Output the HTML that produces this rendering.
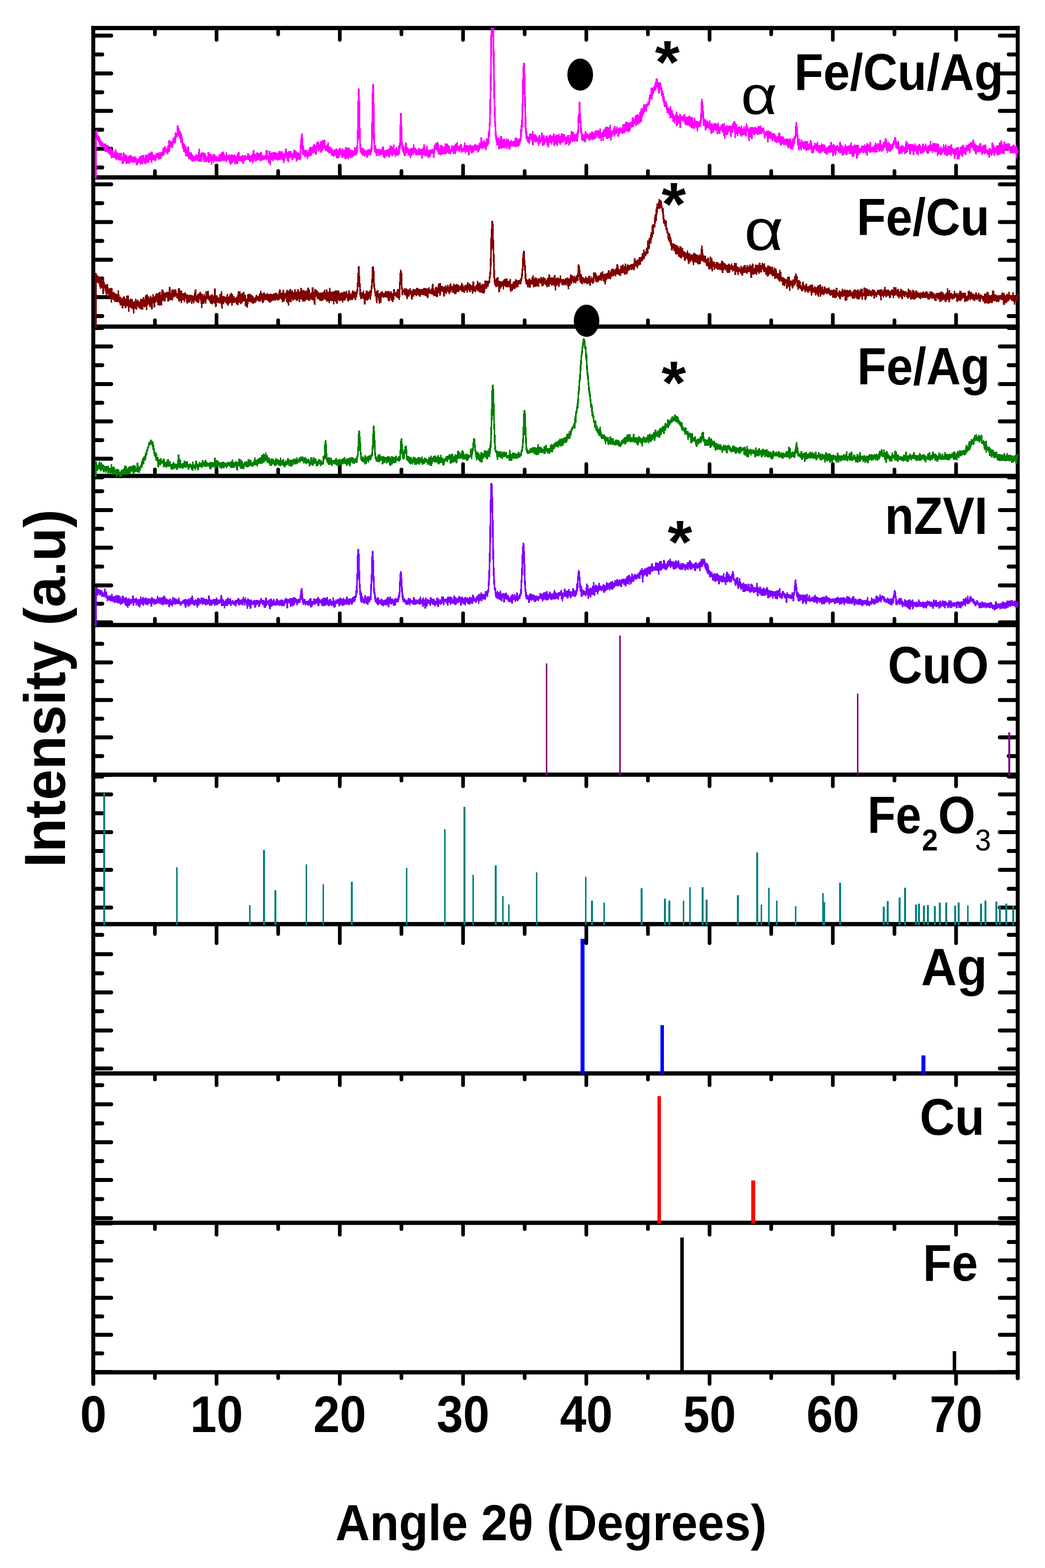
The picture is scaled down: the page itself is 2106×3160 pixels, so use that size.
<!DOCTYPE html>
<html lang="en"><head><meta charset="utf-8"><title>XRD patterns</title>
<style>html,body{margin:0;padding:0;background:#fff}svg{display:block}text{font-family:"Liberation Sans",sans-serif;font-size:100px;fill:#000}</style></head><body>
<svg width="2106" height="3160" viewBox="0 0 2106 3160">
<rect width="2106" height="3160" fill="#fff"/>
<g id="ticks">
<path d="M188,71.8H224M2051,71.8H2015M188,148H224M2051,148H2015M188,223.5H224M2051,223.5H2015M188,299.8H224M2051,299.8H2015M188,109.8H206M2051,109.8H2033M188,186H206M2051,186H2033M188,261.6H206M2051,261.6H2033M188,337.5H206M2051,337.5H2033" stroke="#000" stroke-width="8.0" stroke-linecap="round" fill="none"/>
<path d="M188,371.5H224M2051,371.5H2015M188,447.5H224M2051,447.5H2015M188,523.4H224M2051,523.4H2015M188,598.7H224M2051,598.7H2015M188,409.5H206M2051,409.5H2033M188,485.4H206M2051,485.4H2033M188,561.2H206M2051,561.2H2033M188,637H206M2051,637H2033" stroke="#000" stroke-width="8.0" stroke-linecap="round" fill="none"/>
<path d="M188,698.2H224M2051,698.2H2015M188,774H224M2051,774H2015M188,849.2H224M2051,849.2H2015M188,924.5H224M2051,924.5H2015M188,661H206M2051,661H2033M188,736H206M2051,736H2033M188,811.7H206M2051,811.7H2033M188,887H206M2051,887H2033M188,962H206M2051,962H2033" stroke="#000" stroke-width="8.0" stroke-linecap="round" fill="none"/>
<path d="M188,1028H224M2051,1028H2015M188,1103.8H224M2051,1103.8H2015M188,1179.8H224M2051,1179.8H2015M188,1254.3H224M2051,1254.3H2015M188,990H206M2051,990H2033M188,1065.8H206M2051,1065.8H2033M188,1141.8H206M2051,1141.8H2033M188,1216.8H206M2051,1216.8H2033" stroke="#000" stroke-width="8.0" stroke-linecap="round" fill="none"/>
<path d="M188,1334.9H224M2051,1334.9H2015M188,1410.7H224M2051,1410.7H2015M188,1486H224M2051,1486H2015M188,1561.4H224M2051,1561.4H2015M188,1297.4H206M2051,1297.4H2033M188,1372.7H206M2051,1372.7H2033M188,1448.4H206M2051,1448.4H2033M188,1523.7H206M2051,1523.7H2033" stroke="#000" stroke-width="8.0" stroke-linecap="round" fill="none"/>
<path d="M188,1601H224M2051,1601H2015M188,1677H224M2051,1677H2015M188,1753H224M2051,1753H2015M188,1829H224M2051,1829H2015M188,1565H206M2051,1565H2033M188,1639H206M2051,1639H2033M188,1715H206M2051,1715H2033M188,1791.3H206M2051,1791.3H2033" stroke="#000" stroke-width="8.0" stroke-linecap="round" fill="none"/>
<path d="M188,1922.9H224M2051,1922.9H2015M188,2000H224M2051,2000H2015M188,2076.7H224M2051,2076.7H2015M188,2153.3H224M2051,2153.3H2015M188,1883.9H206M2051,1883.9H2033M188,1961.4H206M2051,1961.4H2033M188,2038H206M2051,2038H2033M188,2115H206M2051,2115H2033" stroke="#000" stroke-width="8.0" stroke-linecap="round" fill="none"/>
<path d="M188,2225.5H224M2051,2225.5H2015M188,2302H224M2051,2302H2015M188,2378H224M2051,2378H2015M188,2455H224M2051,2455H2015M188,2187H206M2051,2187H2033M188,2264H206M2051,2264H2033M188,2340H206M2051,2340H2033M188,2416.5H206M2051,2416.5H2033" stroke="#000" stroke-width="8.0" stroke-linecap="round" fill="none"/>
<path d="M188,2465.5H224M2051,2465.5H2015M188,2540.3H224M2051,2540.3H2015M188,2615.5H224M2051,2615.5H2015M188,2690H224M2051,2690H2015M188,2765H224M2051,2765H2015M188,2503H206M2051,2503H2033M188,2578H206M2051,2578H2033M188,2653H206M2051,2653H2033M188,2727.5H206M2051,2727.5H2033" stroke="#000" stroke-width="8.0" stroke-linecap="round" fill="none"/>
<path d="M312.2,56.5V69.3M436.4,56.5V80.3M560.6,56.5V69.3M684.8,56.5V80.3M809,56.5V69.3M933.2,56.5V80.3M1057.4,56.5V69.3M1181.6,56.5V80.3M1305.8,56.5V69.3M1430,56.5V80.3M1554.2,56.5V69.3M1678.4,56.5V80.3M1802.6,56.5V69.3M1926.8,56.5V80.3" stroke="#000" stroke-width="7.4" stroke-linecap="round" fill="none"/>
<path d="M312.2,357.5V344.7M436.4,357.5V333.7M560.6,357.5V344.7M684.8,357.5V333.7M809,357.5V344.7M933.2,357.5V333.7M1057.4,357.5V344.7M1181.6,357.5V333.7M1305.8,357.5V344.7M1430,357.5V333.7M1554.2,357.5V344.7M1678.4,357.5V333.7M1802.6,357.5V344.7M1926.8,357.5V333.7" stroke="#000" stroke-width="7.4" stroke-linecap="round" fill="none"/>
<path d="M312.2,658.2V645.4M436.4,658.2V634.4M560.6,658.2V645.4M684.8,658.2V634.4M809,658.2V645.4M933.2,658.2V634.4M1057.4,658.2V645.4M1181.6,658.2V634.4M1305.8,658.2V645.4M1430,658.2V634.4M1554.2,658.2V645.4M1678.4,658.2V634.4M1802.6,658.2V645.4M1926.8,658.2V634.4" stroke="#000" stroke-width="7.4" stroke-linecap="round" fill="none"/>
<path d="M312.2,959.1V946.3M436.4,959.1V935.3M560.6,959.1V946.3M684.8,959.1V935.3M809,959.1V946.3M933.2,959.1V935.3M1057.4,959.1V946.3M1181.6,959.1V935.3M1305.8,959.1V946.3M1430,959.1V935.3M1554.2,959.1V946.3M1678.4,959.1V935.3M1802.6,959.1V946.3M1926.8,959.1V935.3" stroke="#000" stroke-width="7.4" stroke-linecap="round" fill="none"/>
<path d="M312.2,1259.7V1246.9M436.4,1259.7V1235.9M560.6,1259.7V1246.9M684.8,1259.7V1235.9M809,1259.7V1246.9M933.2,1259.7V1235.9M1057.4,1259.7V1246.9M1181.6,1259.7V1235.9M1305.8,1259.7V1246.9M1430,1259.7V1235.9M1554.2,1259.7V1246.9M1678.4,1259.7V1235.9M1802.6,1259.7V1246.9M1926.8,1259.7V1235.9" stroke="#000" stroke-width="7.4" stroke-linecap="round" fill="none"/>
<path d="M312.2,1561.2V1573M436.4,1561.2V1584.5M560.6,1561.2V1573M684.8,1561.2V1584.5M809,1561.2V1573M933.2,1561.2V1584.5M1057.4,1561.2V1573M1181.6,1561.2V1584.5M1305.8,1561.2V1573M1430,1561.2V1584.5M1554.2,1561.2V1573M1678.4,1561.2V1584.5M1802.6,1561.2V1573M1926.8,1561.2V1584.5" stroke="#000" stroke-width="7.4" stroke-linecap="round" fill="none"/>
<path d="M312.2,1862.4V1882.2M436.4,1862.4V1900.7M560.6,1862.4V1882.2M684.8,1862.4V1900.7M809,1862.4V1882.2M933.2,1862.4V1900.7M1057.4,1862.4V1882.2M1181.6,1862.4V1900.7M1305.8,1862.4V1882.2M1430,1862.4V1900.7M1554.2,1862.4V1882.2M1678.4,1862.4V1900.7M1802.6,1862.4V1882.2M1926.8,1862.4V1900.7" stroke="#000" stroke-width="7.4" stroke-linecap="round" fill="none"/>
<path d="M312.2,2163.3V2175.6M436.4,2163.3V2186.9M560.6,2163.3V2175.6M684.8,2163.3V2186.9M809,2163.3V2175.6M933.2,2163.3V2186.9M1057.4,2163.3V2175.6M1181.6,2163.3V2186.9M1305.8,2163.3V2175.6M1430,2163.3V2186.9M1554.2,2163.3V2175.6M1678.4,2163.3V2186.9M1802.6,2163.3V2175.6M1926.8,2163.3V2186.9" stroke="#000" stroke-width="7.4" stroke-linecap="round" fill="none"/>
<path d="M312.2,2464.3V2476.9M436.4,2464.3V2488.2M560.6,2464.3V2476.9M684.8,2464.3V2488.2M809,2464.3V2476.9M933.2,2464.3V2488.2M1057.4,2464.3V2476.9M1181.6,2464.3V2488.2M1305.8,2464.3V2476.9M1430,2464.3V2488.2M1554.2,2464.3V2476.9M1678.4,2464.3V2488.2M1802.6,2464.3V2476.9M1926.8,2464.3V2488.2" stroke="#000" stroke-width="7.4" stroke-linecap="round" fill="none"/>
<path d="M312.2,2765.6V2777.4M436.4,2765.6V2788.9M560.6,2765.6V2777.4M684.8,2765.6V2788.9M809,2765.6V2777.4M933.2,2765.6V2788.9M1057.4,2765.6V2777.4M1181.6,2765.6V2788.9M1305.8,2765.6V2777.4M1430,2765.6V2788.9M1554.2,2765.6V2777.4M1678.4,2765.6V2788.9M1802.6,2765.6V2777.4M1926.8,2765.6V2788.9" stroke="#000" stroke-width="7.4" stroke-linecap="round" fill="none"/>
</g>
<g id="frame">
<rect x="183.8" y="52.2" width="1871.4" height="8.6" fill="#000"/>
<rect x="183.8" y="353.2" width="1871.4" height="8.6" fill="#000"/>
<rect x="183.8" y="653.9" width="1871.4" height="8.6" fill="#000"/>
<rect x="183.8" y="954.8" width="1871.4" height="8.6" fill="#000"/>
<rect x="183.8" y="1255.4" width="1871.4" height="8.6" fill="#000"/>
<rect x="183.8" y="1556.9" width="1871.4" height="8.6" fill="#000"/>
<rect x="183.8" y="1858.1" width="1871.4" height="8.6" fill="#000"/>
<rect x="183.8" y="2159" width="1871.4" height="8.6" fill="#000"/>
<rect x="183.8" y="2460" width="1871.4" height="8.6" fill="#000"/>
<rect x="183.8" y="2761.3" width="1871.4" height="8.6" fill="#000"/>
<rect x="184" y="52.2" width="8" height="2736.8" fill="#000"/>
<rect x="2047" y="52.2" width="8" height="2725.3" fill="#000"/>
<circle cx="188" cy="2789" r="4" fill="#000"/>
<circle cx="2051" cy="2777.5" r="4" fill="#000"/>
</g>
<g id="sticks">
<rect x="1100" y="1337" width="3" height="226" fill="#800080" shape-rendering="crispEdges"/>
<rect x="1248" y="1281" width="3" height="282" fill="#800080" shape-rendering="crispEdges"/>
<rect x="1727" y="1398" width="3" height="165" fill="#800080" shape-rendering="crispEdges"/>
<rect x="2032" y="1476" width="4" height="87" fill="#800080" shape-rendering="crispEdges"/>
<rect x="208" y="1598" width="4" height="266" fill="#008080" shape-rendering="crispEdges"/>
<rect x="355" y="1748" width="3" height="116" fill="#008080" shape-rendering="crispEdges"/>
<rect x="502" y="1824" width="3" height="40" fill="#008080" shape-rendering="crispEdges"/>
<rect x="530" y="1713" width="4" height="151" fill="#008080" shape-rendering="crispEdges"/>
<rect x="553" y="1794" width="4" height="70" fill="#008080" shape-rendering="crispEdges"/>
<rect x="616" y="1742" width="3" height="122" fill="#008080" shape-rendering="crispEdges"/>
<rect x="650" y="1782" width="3" height="82" fill="#008080" shape-rendering="crispEdges"/>
<rect x="707" y="1777" width="4" height="87" fill="#008080" shape-rendering="crispEdges"/>
<rect x="818" y="1749" width="3" height="115" fill="#008080" shape-rendering="crispEdges"/>
<rect x="895" y="1671" width="3" height="193" fill="#008080" shape-rendering="crispEdges"/>
<rect x="934" y="1626" width="4" height="238" fill="#008080" shape-rendering="crispEdges"/>
<rect x="952" y="1763" width="3" height="101" fill="#008080" shape-rendering="crispEdges"/>
<rect x="997" y="1744" width="4" height="120" fill="#008080" shape-rendering="crispEdges"/>
<rect x="1012" y="1806" width="3" height="58" fill="#008080" shape-rendering="crispEdges"/>
<rect x="1024" y="1823" width="3" height="41" fill="#008080" shape-rendering="crispEdges"/>
<rect x="1080" y="1758" width="3" height="106" fill="#008080" shape-rendering="crispEdges"/>
<rect x="1179" y="1767" width="3" height="97" fill="#008080" shape-rendering="crispEdges"/>
<rect x="1191" y="1815" width="4" height="49" fill="#008080" shape-rendering="crispEdges"/>
<rect x="1216" y="1819" width="3" height="45" fill="#008080" shape-rendering="crispEdges"/>
<rect x="1291" y="1790" width="4" height="74" fill="#008080" shape-rendering="crispEdges"/>
<rect x="1338" y="1811" width="4" height="53" fill="#008080" shape-rendering="crispEdges"/>
<rect x="1347" y="1815" width="4" height="49" fill="#008080" shape-rendering="crispEdges"/>
<rect x="1376" y="1815" width="3" height="49" fill="#008080" shape-rendering="crispEdges"/>
<rect x="1389" y="1788" width="3" height="76" fill="#008080" shape-rendering="crispEdges"/>
<rect x="1414" y="1788" width="4" height="76" fill="#008080" shape-rendering="crispEdges"/>
<rect x="1422" y="1813" width="4" height="51" fill="#008080" shape-rendering="crispEdges"/>
<rect x="1485" y="1804" width="4" height="60" fill="#008080" shape-rendering="crispEdges"/>
<rect x="1524" y="1718" width="4" height="146" fill="#008080" shape-rendering="crispEdges"/>
<rect x="1533" y="1823" width="3" height="41" fill="#008080" shape-rendering="crispEdges"/>
<rect x="1548" y="1789" width="3" height="75" fill="#008080" shape-rendering="crispEdges"/>
<rect x="1564" y="1815" width="3" height="49" fill="#008080" shape-rendering="crispEdges"/>
<rect x="1602" y="1826" width="3" height="38" fill="#008080" shape-rendering="crispEdges"/>
<rect x="1657" y="1800" width="3" height="64" fill="#008080" shape-rendering="crispEdges"/>
<rect x="1660" y="1818" width="3" height="46" fill="#008080" shape-rendering="crispEdges"/>
<rect x="1691" y="1779" width="4" height="85" fill="#008080" shape-rendering="crispEdges"/>
<rect x="1779" y="1827" width="4" height="37" fill="#008080" shape-rendering="crispEdges"/>
<rect x="1787" y="1816" width="4" height="48" fill="#008080" shape-rendering="crispEdges"/>
<rect x="1811" y="1809" width="4" height="55" fill="#008080" shape-rendering="crispEdges"/>
<rect x="1822" y="1789" width="4" height="75" fill="#008080" shape-rendering="crispEdges"/>
<rect x="1844" y="1823" width="4" height="41" fill="#008080" shape-rendering="crispEdges"/>
<rect x="1850" y="1821" width="4" height="43" fill="#008080" shape-rendering="crispEdges"/>
<rect x="1860" y="1825" width="4" height="39" fill="#008080" shape-rendering="crispEdges"/>
<rect x="1868" y="1824" width="4" height="40" fill="#008080" shape-rendering="crispEdges"/>
<rect x="1882" y="1826" width="4" height="38" fill="#008080" shape-rendering="crispEdges"/>
<rect x="1892" y="1819" width="4" height="45" fill="#008080" shape-rendering="crispEdges"/>
<rect x="1905" y="1819" width="4" height="45" fill="#008080" shape-rendering="crispEdges"/>
<rect x="1923" y="1825" width="4" height="39" fill="#008080" shape-rendering="crispEdges"/>
<rect x="1930" y="1819" width="4" height="45" fill="#008080" shape-rendering="crispEdges"/>
<rect x="1949" y="1825" width="3" height="39" fill="#008080" shape-rendering="crispEdges"/>
<rect x="1975" y="1821" width="4" height="43" fill="#008080" shape-rendering="crispEdges"/>
<rect x="1984" y="1815" width="4" height="49" fill="#008080" shape-rendering="crispEdges"/>
<rect x="2006" y="1817" width="4" height="47" fill="#008080" shape-rendering="crispEdges"/>
<rect x="2013" y="1826" width="4" height="38" fill="#008080" shape-rendering="crispEdges"/>
<rect x="2026" y="1821" width="4" height="43" fill="#008080" shape-rendering="crispEdges"/>
<rect x="2040" y="1825" width="4" height="39" fill="#008080" shape-rendering="crispEdges"/>
<rect x="1170" y="1892" width="8" height="273" fill="#0000ff" shape-rendering="crispEdges"/>
<rect x="1331" y="2066" width="7" height="99" fill="#0000ff" shape-rendering="crispEdges"/>
<rect x="1857" y="2127" width="8" height="38" fill="#0000ff" shape-rendering="crispEdges"/>
<rect x="1325" y="2209" width="7" height="257" fill="#ff0000" shape-rendering="crispEdges"/>
<rect x="1514" y="2379" width="8" height="87" fill="#ff0000" shape-rendering="crispEdges"/>
<rect x="1371" y="2494" width="7" height="272" fill="#000" shape-rendering="crispEdges"/>
<rect x="1920" y="2723" width="7" height="43" fill="#000" shape-rendering="crispEdges"/>
</g>
<g id="curves">
<path d="M191,277h1v-10h1v-5h1v-1h1v1h1v8h1v3h2v2h2v1h1v5h2v3h1v2h3v2h1v2h1v-1h4v3h4v1h1v8h1v-2h1v-2h1v-1h2v1h1v5h4v7h1v-4h1v-4h3v1h1v4h1v1h1v1h1v1h3v-1h1v1h1v-1h2v1h1v7h1v-8h1v-1h2v1h1v3h4v2h1v1h1v2h1v-2h3v-1h1v-1h2v1h1v1h2v3h1v-1h1v-1h4v1h1v2h2v3h1v-1h1v-1h2v-2h1v-2h1v-1h2v-1h4v-1h3v5h1v-5h1v-1h2v1h3v-3h1v-1h2v1h1v-2h2v-1h1v-1h2v1h1v5h3v1h1v1h1v-3h1v-1h2v-1h2v1h1v-2h1v-1h1v1h1v1h1v-2h1v-1h1v1h2v-6h1v-3h3v-2h1v-1h1v1h1v3h1v2h1v-2h1v-5h2v-10h1v-1h2v1h1v2h1v-1h2v1h1v-3h1v-5h2v-1h1v-1h1v-8h1v-1h1v1h1v1h1v-15h1v-1h2v1h1v5h1v1h1v5h2v1h1v2h1v4h1v3h1v5h1v8h1v1h1v1h1v2h1v3h3v6h1v-4h1v-1h2v1h1v10h1v1h5v4h2v2h1v1h2v1h1v-2h1v-2h3v1h2v-5h1v-7h1v-1h1v1h1v9h1v1h1v-2h1v-1h5v1h3v3h1v1h1v3h2v-8h1v-1h2v1h1v2h2v1h2v1h1v3h1v-3h1v-1h1v1h1v-1h2v1h1v3h2v1h3v1h1v-5h4v-1h1v-3h3v-1h1v-1h2v1h1v5h2v3h1v-7h3v5h1v2h1v-3h3v1h1v1h1v-2h4v1h2v-1h3v3h3v-3h1v-2h1v-3h3v1h1v7h1v1h1v-1h2v-1h1v-1h2v1h1v2h1v-2h1v-1h2v1h1v2h1v-1h1v-5h1v-1h1v1h2v3h2v2h2v-2h1v-2h2v-7h1v-1h2v1h1v6h1v1h1v1h1v-3h1v-1h1v-1h1v1h1v2h1v-1h2v1h1v-3h4v6h2v1h1v1h2v-1h1v-1h1v-9h2v-1h2v1h1v10h1v-9h4v4h1v-1h5v-1h4v1h1v1h1v-1h1v1h1v1h1v-2h1v-3h3v1h6v4h3v-1h1v-7h1v-2h3v6h1v2h1v-1h1v-2h3v1h1v-1h2v1h1v3h1v1h1v-2h1v-5h1v-1h1v1h1v1h3v2h1v2h1v-1h2v1h1v1h1v1h1v-17h1v-12h1v-8h1v-3h3v7h1v17h1v1h1v8h5v1h2v3h1v-5h2v-4h1v-1h3v1h1v-2h3v-4h1v-1h2v1h1v2h2v-6h2v-1h1v-1h2v1h1v5h1v-4h1v-2h1v-1h1v1h1v-2h1v-1h2v1h1v-1h1v-1h2v1h1v11h2v-2h2v-4h3v8h2v1h2v1h1v2h2v1h1v3h1v-1h1v-1h3v-1h1v-1h2v1h1v2h2v-1h1v-3h4v4h1v-3h4v3h3v-5h1v-1h2v1h1v1h3v-1h2v1h1v3h2v1h4v1h1v1h1v-7h1v-1h1v1h1v1h1v-1h1v-4h1v-31h1v-58h1v-26h3v1h1v25h1v54h1v32h1v7h1v2h1v-1h3v1h1v2h1v1h1v1h2v-1h1v1h1v-2h1v-1h2v1h1v-1h1v1h1v-3h1v-7h1v-45h1v-59h1v-17h1v-1h2v1h1v38h1v61h1v23h1v1h1v6h1v1h8v3h1v-3h1v-3h1v-1h1v-1h2v1h1v6h1v1h2v-1h2v-1h2v1h1v-3h3v-6h3v1h3v3h1v-6h3v9h2v-3h1v-1h2v1h1v5h1v-9h2v-5h1v-37h1v-23h4v26h1v31h1v8h2v1h1v3h1v-9h1v-1h2v1h1v8h1v1h1v1h1v2h2v-1h1v1h1v-2h5v-7h1v-1h1v1h1v5h1v2h2v1h1v2h2v1h1v-3h1v-1h2v1h1v1h3v1h1v-1h1v-2h1v-1h1v-6h3v1h1v11h1v-5h1v-4h3v7h1v1h3v-1h5v-1h3v-7h1v-1h1v-3h1v-1h2v1h1v-3h1v-1h1v1h1v2h1v4h1v7h1v-4h1v-3h3v1h3v3h2v-2h1v-5h3v1h1v-1h2v1h1v2h1v1h1v1h2v7h1v-1h1v-7h4v2h1v-2h1v-1h2v-2h1v-1h2v-2h1v-1h1v1h1v6h1v2h1v-2h1v-1h1v-1h1v-1h2v1h1v6h2v1h1v-6h1v-5h3v5h3v1h5v-1h1v-1h2v1h1v2h1v-1h3v1h1v-2h1v-1h1v-1h3v3h1v-1h2v-1h1v1h1v-4h1v-1h2v-10h4v8h2v-3h3v4h1v-1h1v-4h1v-3h2v1h1v-12h1v-4h1v-17h1v-46h1v-52h1v-78h1v-14h7v46h1v61h1v52h1v30h1v20h1v8h1v5h1v-1h2v1h1v3h1v-6h2v-1h3v5h1v2h1v-1h1v-1h2v1h1v4h1v-4h1v-1h2v1h1v1h3v4h1v-1h2v-2h3v4h1v-2h4v-7h4v1h1v1h2v3h1v-3h1v-1h1v1h1v-19h1v-8h1v-11h1v-33h1v-49h1v-25h1v-7h1v-1h1v1h2v22h1v46h1v39h1v25h1v6h1v8h1v1h1v2h1v-6h1v-1h2v-1h1v1h1v1h1v-6h3v7h1v-1h3v2h2v1h1v2h1v3h1v-2h1v-3h1v-1h2v1h1v4h1v-9h1v-1h2v1h1v5h1v-1h2v1h1v5h1v-4h2v-1h3v4h1v-3h1v-1h1v-1h1v-1h2v1h1v2h1v-1h1v1h1v-3h1v-2h3v5h1v-2h1v-1h2v1h3v-2h1v-1h1v1h1v4h1v-1h1v-4h1v-1h2v1h1v2h1v-1h3v1h1v4h4v-3h4v5h1v-5h2v-8h4v2h3v4h4v-1h1v-3h1v-5h1v-28h1v-4h1v-23h1v-1h2v1h1v21h1v16h1v15h1v9h1v2h1v1h1v1h1v-1h1v-5h1v-1h2v1h1v4h1v-1h1v1h1v2h2v-2h1v-1h1v1h1v-2h1v-2h4v1h2v2h1v-5h1v-1h1v1h4v-1h2v1h2v-4h3v8h3v-3h1v-3h3v-2h1v-3h1v-1h1v1h2v-1h2v1h1v1h1v-1h1v-4h1v-1h1v1h1v11h3v-1h1v-1h1v-4h1v-1h1v-2h3v5h1v-4h3v4h1v-1h1v-1h3v-1h2v1h1v2h1v-8h1v-1h2v1h1v-1h1v-1h1v-4h4v1h1v1h1v-1h1v1h3v-1h1v-1h2v-9h4v4h1v-2h1v-5h1v-1h3v-2h4v3h1v-7h2v-3h1v-5h3v1h1v-4h1v-4h1v-1h2v1h1v-1h2v-1h1v-1h2v-4h2v-8h1v-5h2v-2h1v-12h1v-1h2v1h2v-2h1v-1h1v-1h1v-6h1v-2h1v-6h1v-1h3v1h1v7h2v-1h2v1h1v1h1v2h1v6h1v2h1v6h2v5h1v6h1v2h1v6h1v2h2v1h1v4h1v5h1v2h2v2h1v-1h1v-3h3v7h2v1h1v6h1v1h1v3h1v1h1v-1h1v-4h1v-3h3v7h2v1h1v1h1v-4h1v-1h1v1h1v3h2v1h2v-1h1v-2h1v-1h3v5h5v1h1v-2h1v-1h2v1h1v1h2v1h3v1h1v9h1v-9h3v4h1v3h1v-1h2v1h2v1h2v-2h1v-2h1v-13h1v-23h1v-6h3v6h1v6h1v13h1v15h2v1h1v1h1v2h4v3h2v-3h1v-1h1v1h1v7h1v-2h1v-1h1v1h1v3h1v-2h2v-1h5v2h2v-3h3v8h3v-4h3v-2h4v-1h1v1h1v6h1v-1h1v-1h3v-1h1v1h1v1h1v-1h5v1h1v-4h1v-2h1v-2h1v-2h4v3h1v3h3v7h1v-1h1v-1h1v-1h2v1h1v2h1v-4h3v6h2v-4h1v-1h1v1h1v4h1v-5h1v-5h1v-1h1v1h1v4h1v3h1v3h2v-2h1v-1h8v2h1v-2h1v-1h2v1h1v1h1v1h1v-2h1v-2h5v-1h2v1h1v4h2v-1h1v-1h1v1h1v4h1v4h1v1h1v-2h1v-1h3v1h1v-1h2v1h1v1h4v3h2v1h1v-1h2v1h2v2h1v2h1v2h2v-1h2v-6h1v-1h2v1h1v1h1v6h2v-1h2v1h2v1h1v3h1v1h3v-1h5v2h1v-2h4v1h1v5h1v-5h1v-1h2v-2h1v-3h1v-1h1v-19h1v-8h3v1h1v8h1v14h1v11h1v-1h1v1h1v7h1v-5h1v-1h2v1h1v3h5v-1h3v1h1v-1h2v1h1v5h2v-3h1v-5h3v2h1v4h1v6h2v-1h2v-5h3v1h2v-3h1v-1h1v1h1v7h1v-1h2v1h2v-4h3v1h1v1h4v1h1v1h1v4h2v-1h2v-1h1v-2h3v-1h1v-6h4v7h1v-3h3v2h2v1h1v1h2v-2h3v3h1v1h1v-10h4v5h1v1h1v1h1v1h1v5h1v-4h2v-4h3v4h1v-1h1v-1h1v1h2v-1h1v-1h1v1h1v-2h1v-4h3v7h3v-2h1v-1h2v1h5v-1h1v1h2v6h2v2h1v-3h1v-4h3v1h2v-1h1v-2h3v3h1v-2h1v-3h1v-1h2v1h1v2h2v-5h3v1h1v10h1v-1h1v-1h2v1h1v-4h2v-5h3v3h1v1h1v-3h3v2h1v-7h1v-1h2v1h1v8h3v-4h1v-1h2v-3h1v-5h3v2h1v3h1v5h1v-1h1v-1h2v1h1v3h2v1h1v-1h1v-1h2v-4h1v-2h1v-2h1v-5h3v2h1v4h1v3h1v1h1v-1h1v-1h1v1h1v6h1v4h3v-2h1v-1h2v1h2v3h2v-1h1v-5h1v-6h3v3h2v3h3v1h1v-1h3v1h1v-1h2v1h1v1h1v-3h3v4h3v1h2v-2h1v-2h3v1h1v1h1v5h1v-2h1v-6h3v1h1v3h1v1h1v-5h2v1h1v3h1v3h1v-2h1v-1h2v-1h1v-1h1v-7h3v7h2v-3h1v-1h1v1h1v1h1v-1h2v1h5v1h2v1h1v7h1v-1h1v-2h3v5h1v-3h1v-6h1v-1h1v1h1v5h1v-4h1v-1h2v1h1v6h1v-4h6v-3h4v7h2v1h2v1h2v-2h1v-1h2v1h1v-1h1v-1h2v1h1v7h1v-7h1v-1h1v-1h1v-1h2v-2h4v4h2v1h1v-4h1v-1h2v1h1v-1h1v-2h1v-1h3v-3h3v1h1v-3h1v-3h3v4h1v4h2v2h1v1h1v1h5v-3h1v-1h1v-1h2v1h1v7h1v-3h3v-1h3v-1h2v1h1v9h3v1h1v-3h1v-1h3v1h1v2h1v-13h1v-1h2v1h1v4h2v5h3v-4h3v1h1v-2h2v-5h3v-3h1v-1h2v1h1v7h2v-5h1v-1h2v1h1v3h3v1h1v-1h1v-1h1v1h3v1h1v7h1v1h1v-4h1v-1h2v-1h1v-1h2v1h1v2h1v1h1v-1h2v1h1v1h1v5h1v3h1v2h-1v4h-1v1h-1v8h-3v-9h-1v-1h-6v-1h-1v1h-1v1h-2v-1h-1v-6h-1v1h-3v1h-1v-1h-1v-4h-1v3h-1v1h-1v-1h-1v8h-3v-2h-1v1h-2v-1h-2v2h-2v1h-1v1h-1v-1h-1v1h-4v-5h-1v1h-1v3h-1v2h-1v1h-1v-1h-1v-6h-1v3h-1v2h-1v1h-2v-1h-1v-2h-1v7h-3v-5h-2v-1h-1v-4h-1v1h-2v1h-1v1h-2v-1h-1v-2h-1v4h-1v1h-1v-1h-1v-3h-1v-2h-1v-2h-1v2h-6v4h-4v-3h-1v-3h-1v-1h-1v-1h-1v-4h-2v-1h-1v-2h-1v4h-1v8h-1v1h-1v-1h-1v-4h-2v1h-1v1h-1v-1h-1v7h-1v1h-2v-1h-1v-3h-2v4h-1v2h-1v1h-2v-1h-1v-4h-1v2h-1v3h-1v5h-4v1h-1v-1h-1v-8h-2v6h-1v1h-3v-9h-2v-1h-2v4h-1v1h-1v-1h-1v-2h-3v-1h-1v3h-1v1h-1v-1h-1v1h-1v-1h-1v-2h-4v-5h-2v3h-1v2h-1v1h-2v-1h-2v-1h-3v3h-1v1h-1v-1h-1v-8h-1v1h-4v-2h-2v3h-1v1h-1v-1h-1v-3h-3v-1h-2v4h-1v1h-1v1h-1v1h-1v-1h-1v-2h-1v-1h-1v-4h-2v3h-1v1h-2v2h-1v1h-1v-1h-1v1h-4v-5h-1v-1h-1v9h-3v-3h-1v1h-1v-1h-1v-4h-1v-1h-1v1h-1v6h-1v1h-2v-1h-1v-7h-2v-1h-1v7h-4v-8h-1v-2h-1v6h-1v1h-1v-1h-1v2h-1v1h-1v1h-2v-1h-1v-4h-3v4h-4v-1h-1v1h-1v1h-2v-1h-1v-8h-1v-1h-1v-1h-2v-2h-2v-7h-1v3h-2v6h-1v1h-2v1h-1v2h-1v1h-2v1h-3v-2h-1v4h-1v1h-1v-1h-1v-4h-1v-2h-1v-6h-1v3h-3v5h-2v1h-1v1h-2v-1h-1v-2h-1v2h-1v1h-2v-1h-1v-4h-1v6h-5v1h-2v-1h-1v-1h-2v1h-5v1h-2v-1h-1v-1h-1v-1h-1v9h-3v-4h-2v-2h-1v-1h-2v2h-3v-4h-1v2h-1v1h-2v1h-2v3h-1v1h-2v6h-1v1h-2v-1h-1v-10h-1v1h-2v6h-5v-1h-1v-4h-1v-1h-1v1h-4v-6h-1v5h-1v3h-4v-3h-3v2h-1v1h-1v1h-2v-1h-1v-4h-1v-1h-1v1h-3v-1h-1v-1h-1v-2h-1v-1h-2v6h-1v3h-1v1h-1v-1h-1v-5h-1v4h-1v3h-3v-7h-1v-1h-1v1h-3v-1h-1v1h-3v4h-3v-2h-3v-2h-2v-3h-2v1h-1v1h-2v2h-1v1h-1v-1h-1v-1h-4v-5h-1v2h-3v-4h-2v1h-1v6h-2v1h-2v1h-1v-1h-1v-5h-1v-2h-1v-2h-1v1h-1v2h-5v1h-2v-1h-1v-2h-1v1h-2v-1h-1v-1h-1v-3h-1v1h-1v5h-3v-4h-1v3h-1v1h-2v-1h-1v-9h-2v-18h-1v4h-2v4h-1v7h-1v5h-1v1h-1v5h-1v1h-2v-1h-3v-1h-1v-3h-1v1h-1v1h-3v-4h-1v-1h-1v-1h-2v-2h-1v1h-1v1h-2v-1h-1v-2h-2v3h-1v1h-1v-1h-1v-1h-2v-4h-2v-2h-2v2h-3v-1h-2v-1h-1v-1h-2v-4h-1v3h-1v1h-2v-5h-2v-1h-4v8h-3v-8h-1v-5h-1v-1h-1v6h-4v-9h-1v-4h-1v3h-1v1h-4v1h-4v1h-2v-1h-1v-1h-3v2h-4v-2h-1v10h-1v1h-2v-1h-1v-3h-2v7h-3v-6h-1v-14h-1v3h-1v8h-3v-2h-1v-1h-3v1h-2v2h-1v1h-2v-1h-1v-3h-1v-1h-1v-2h-2v5h-1v1h-1v-1h-1v-3h-1v-1h-1v8h-3v-12h-1v-7h-1v9h-3v8h-3v-3h-1v-8h-2v1h-1v5h-2v1h-1v1h-1v-1h-1v-1h-1v9h-3v-5h-1v-2h-1v-6h-3v-5h-1v2h-1v6h-3v-2h-1v2h-1v1h-2v-1h-1v-6h-2v-2h-2v1h-1v4h-1v1h-2v-1h-1v3h-3v-4h-1v-4h-1v-1h-2v-3h-2v1h-2v3h-1v1h-2v-1h-1v-8h-3v-1h-1v-15h-1v4h-1v7h-1v6h-1v1h-1v-1h-1v1h-1v1h-2v8h-3v-6h-1v-2h-1v-2h-1v5h-4v-2h-1v1h-3v-2h-1v-1h-2v-1h-1v-2h-6v-1h-2v-1h-1v-1h-1v-5h-3v-1h-2v-1h-1v15h-4v-9h-2v2h-1v3h-4v-11h-1v6h-3v-4h-1v1h-2v-7h-1v-2h-1v1h-1v1h-2v-1h-1v-6h-1v-1h-1v-3h-4v-6h-1v-6h-4v-4h-1v-6h-1v-1h-1v-6h-1v-5h-1v-1h-1v-11h-2v6h-1v1h-2v-1h-1v-9h-2v-4h-1v7h-2v1h-1v1h-2v4h-1v2h-1v4h-1v7h-3v-1h-1v5h-1v6h-1v1h-2v1h-1v1h-1v3h-1v7h-1v1h-2v-1h-1v3h-2v4h-1v1h-1v2h-1v5h-1v7h-3v3h-4v2h-1v1h-2v-1h-1v3h-3v-4h-1v1h-1v5h-5v2h-1v1h-1v4h-1v1h-1v2h-1v1h-2v-1h-1v-2h-1v1h-4v3h-1v1h-2v-1h-1v2h-1v1h-1v-1h-1v-2h-1v-1h-1v2h-2v2h-1v4h-1v1h-2v-1h-1v-6h-1v1h-1v1h-2v4h-3v-3h-1v-1h-1v4h-1v1h-1v7h-3v-5h-4v2h-5v-4h-3v-1h-1v9h-3v-6h-1v6h-1v1h-1v-1h-1v-6h-1v1h-1v1h-1v-1h-2v-1h-1v-5h-1v5h-2v1h-1v1h-1v1h-2v-1h-1v2h-1v1h-2v-1h-1v-1h-2v2h-1v1h-2v-1h-1v-3h-2v-1h-1v-1h-1v4h-1v4h-1v1h-2v-1h-1v-1h-2v-1h-1v-1h-2v-1h-1v-12h-1v-2h-1v-19h-1v-1h-1v22h-1v7h-1v8h-1v1h-2v-1h-1v-2h-1v3h-1v1h-1v-1h-1v-1h-2v1h-3v-2h-1v5h-1v1h-2v3h-1v1h-1v-1h-1v-6h-1v3h-1v1h-2v1h-3v-9h-1v4h-4v1h-2v3h-1v1h-2v-1h-1v-3h-1v-1h-1v7h-1v1h-1v-1h-1v-1h-1v-2h-2v3h-4v-8h-2v5h-1v1h-1v-1h-1v-3h-2v1h-1v7h-1v1h-2v-1h-1v-4h-2v-6h-1v1h-1v5h-3v2h-4v-9h-1v1h-1v3h-1v1h-1v-1h-1v5h-3v-4h-1v-4h-2v1h-1v1h-1v-1h-1v-1h-1v-1h-1v7h-1v1h-2v-1h-1v-6h-1v-5h-2v3h-1v5h-1v1h-2v-3h-2v-1h-1v-3h-1v-2h-1v-2h-1v-8h-1v-15h-1v-40h-1v-25h-1v36h-1v29h-1v10h-1v10h-1v8h-1v2h-1v4h-1v3h-2v3h-3v-1h-2v1h-1v1h-2v-1h-1v-1h-2v1h-2v-1h-2v1h-2v5h-5v-6h-1v5h-1v1h-1v-1h-1v-4h-1v3h-4v-1h-1v1h-1v-1h-1v1h-1v1h-2v-1h-1v1h-1v1h-2v-1h-1v-7h-4v-6h-1v-6h-1v-6h-1v-19h-1v-21h-1v-37h-1v-61h-1v-63h-1v40h-1v70h-1v46h-1v24h-1v21h-1v2h-1v12h-1v3h-1v2h-1v1h-1v1h-1v6h-1v1h-1v-1h-1v-2h-1v-1h-1v-1h-2v3h-3v-2h-3v3h-1v1h-1v3h-1v1h-3v-4h-1v1h-2v-1h-3v4h-3v1h-1v1h-1v1h-1v-1h-1v-2h-1v-4h-1v9h-1v1h-3v-7h-4v2h-1v1h-1v-1h-1v-3h-1v1h-3v2h-3v-5h-1v3h-1v1h-2v-1h-1v-2h-1v-1h-1v1h-2v3h-1v3h-1v1h-1v-1h-1v-1h-1v2h-3v-5h-2v3h-1v1h-1v1h-1v-1h-1v1h-1v-1h-3v-3h-1v3h-2v1h-4v-1h-1v1h-2v-1h-1v3h-1v1h-1v-1h-1v-1h-4v-1h-1v-1h-1v-4h-1v-1h-1v-3h-3v7h-1v9h-4v-8h-2v1h-1v4h-1v1h-2v1h-1v1h-4v-4h-1v1h-5v-3h-1v1h-2v7h-3v-6h-1v-2h-3v1h-4v-1h-1v1h-3v-2h-1v-3h-1v1h-1v3h-1v1h-1v-1h-2v3h-1v3h-1v1h-1v-1h-1v-3h-1v-2h-1v1h-3v-6h-1v1h-1v3h-1v2h-1v1h-2v-1h-1v-1h-1v-4h-1v-3h-1v-1h-1v-4h-1v-7h-1v5h-1v4h-1v8h-2v2h-1v1h-2v-1h-1v1h-2v1h-1v1h-2v-5h-2v1h-1v3h-3v-3h-3v5h-4v-3h-3v2h-2v3h-3v-1h-1v-1h-1v-1h-1v-4h-3v1h-3v1h-3v-5h-1v6h-4v-6h-1v-1h-1v-1h-1v-6h-1v-15h-1v-6h-1v22h-1v5h-1v4h-1v2h-1v1h-1v-1h-4v5h-4v-4h-1v-1h-1v2h-1v1h-2v-3h-1v1h-2v-1h-1v-2h-1v-1h-1v-2h-1v-2h-1v-6h-1v-20h-1v5h-1v18h-1v7h-2v3h-4v1h-3v2h-1v1h-2v1h-1v1h-2v-1h-1v-4h-1v7h-3v-3h-1v1h-1v1h-2v1h-2v-1h-1v-3h-1v-1h-1v2h-1v1h-2v-1h-1v-4h-2v-3h-1v6h-1v1h-1v1h-2v1h-1v-1h-3v-6h-1v1h-2v2h-3v-2h-4v-5h-1v-1h-1v2h-3v-3h-2v-1h-1v-2h-2v1h-1v-1h-1v-2h-1v-2h-1v-1h-1v4h-1v1h-2v3h-1v1h-2v-1h-1v-5h-1v3h-1v1h-2v-1h-1v-7h-1v13h-1v1h-2v-1h-1v-3h-2v1h-2v-1h-1v1h-1v4h-1v1h-1v1h-3v-1h-1v2h-2v4h-1v1h-1v-1h-1v-4h-1v-1h-1v2h-3v-4h-4v-4h-1v-9h-1v20h-1v2h-1v1h-2v-1h-1v-1h-1v2h-2v3h-3v-7h-2v-1h-1v1h-1v1h-2v3h-3v-5h-2v1h-2v8h-3v-2h-1v-1h-1v-4h-1v-4h-1v3h-1v5h-1v1h-1v4h-3v-6h-3v-3h-1v2h-1v1h-2v-1h-1v1h-1v1h-2v-1h-1v-1h-2v1h-2v-1h-1v-1h-1v4h-3v-2h-2v-1h-1v11h-3v-4h-2v-1h-1v-7h-1v2h-1v1h-1v-1h-1v-3h-1v1h-1v1h-1v1h-3v-1h-1v2h-2v1h-4v-2h-1v-1h-1v1h-3v1h-1v2h-3v-5h-1v4h-2v4h-1v1h-1v-1h-1v-4h-2v1h-1v1h-2v-1h-1v-3h-2v-1h-3v1h-1v-1h-1v2h-2v1h-1v4h-1v1h-3v-4h-4v-2h-1v1h-2v-1h-1v6h-1v1h-2v-1h-1v1h-4v-5h-2v2h-1v1h-2v2h-1v1h-2v-1h-1v-2h-1v-2h-1v-5h-1v1h-2v3h-1v1h-2v-1h-1v-3h-1v2h-3v-1h-1v-1h-1v2h-1v1h-1v-1h-2v1h-2v-1h-2v1h-2v-1h-1v1h-1v-1h-3v-1h-1v4h-3v-4h-1v8h-3v-7h-2v3h-4v-3h-1v1h-1v1h-2v-1h-1v1h-4v-5h-1v-6h-1v9h-1v1h-7v-1h-2v-1h-1v-1h-2v1h-1v1h-5v1h-3v-2h-1v-1h-1v-2h-5v-5h-2v-1h-4v-7h-1v-1h-2v-1h-1v-6h-2v-5h-1v-7h-2v-1h-1v-7h-2v-4h-1v-1h-1v-2h-1v3h-1v1h-1v1h-1v9h-1v2h-3v-1h-1v5h-1v5h-5v-1h-1v9h-3v3h-1v2h-3v-3h-3v-1h-1v5h-1v1h-1v1h-1v1h-3v4h-1v1h-3v1h-1v1h-2v-1h-1v-3h-2v2h-1v4h-1v1h-2v-1h-1v-1h-4v5h-3v-4h-1v-1h-2v5h-1v1h-2v-1h-1v-1h-1v1h-1v3h-3v-1h-2v-5h-1v5h-1v1h-2v-1h-1v1h-1v1h-2v-4h-1v1h-2v1h-1v2h-1v1h-1v1h-1v-1h-1v-3h-1v-4h-1v2h-6v-2h-1v1h-1v1h-1v-1h-1v3h-3v-1h-1v1h-3v1h-1v-1h-1v-4h-1v-1h-2v4h-1v1h-1v1h-2v-1h-1v-6h-1v-1h-1v1h-2v-1h-3v-1h-1v-2h-1v3h-3v-3h-1v-2h-1v1h-2v-1h-1v-1h-1v1h-1v1h-3v-5h-1v-2h-2v-1h-1v-1h-1v-1h-1v-3h-1v1h-2v-1h-3v-1h-1v-4h-1v-4h-1v-2h-2v2h-1v1h-1v-1h-1v-3h-3v-3h-1v-4h-1v-1h-1v-3h-1v-1h-1v78h-4z" fill="#ff00ff" shape-rendering="crispEdges"/>
<path d="M191,554h1v-4h3v4h2v1h1v3h6v1h1v5h1v2h1v-6h3v8h1v4h1v1h1v1h1v-1h1v-1h2v1h1v6h1v3h1v-1h1v-1h2v1h1v-1h2v1h1v8h1v-1h2v1h1v2h2v1h3v1h1v-8h3v8h1v5h3v2h1v2h1v-2h1v-1h1v-1h1v-1h2v1h1v4h2v-6h3v-1h2v1h1v8h2v-2h1v-1h1v1h1v1h3v5h1v-1h3v-5h3v4h1v-2h3v2h1v2h1v-1h1v-4h1v-1h2v1h2v-3h1v-1h1v-1h1v1h1v4h1v-8h3v-2h3v4h2v1h1v3h1v-5h3v3h2v-6h3v4h3v-5h1v-1h3v1h1v-1h1v-1h1v-2h4v6h1v-10h1v-1h2v1h1v2h1v3h2v1h2v-2h6v-10h3v1h1v11h1v-6h1v-1h2v1h3v-1h4v2h1v5h1v1h1v-10h5v5h1v-1h2v1h1v4h1v1h3v-1h1v-1h2v1h1v3h4v1h1v1h1v-1h5v1h3v2h1v-3h1v-4h1v-6h1v-1h2v1h1v12h1v-3h1v-1h3v-2h1v-2h3v2h1v2h3v4h1v-3h1v-1h1v1h1v3h1v-9h4v-1h3v7h1v3h2v-2h1v-1h1v1h2v-1h1v1h1v3h1v-15h1v-1h2v1h1v13h3v1h1v4h1v-1h2v-6h1v-1h2v-5h3v10h1v-1h2v1h3v1h1v1h1v-4h1v-3h3v6h1v-1h1v-3h1v-1h1v-2h1v-1h2v1h1v2h2v4h3v4h1v-1h1v-1h1v-1h1v-1h1v-3h1v-7h6v6h1v-2h1v-1h1v1h1v-2h1v-1h2v1h1v5h2v1h1v7h1v-1h1v-8h2v-1h2v1h1v-1h3v3h1v-1h1v1h1v1h1v1h1v3h1v-1h1v1h1v-2h1v-4h3v1h1v2h2v-3h1v-2h1v-1h1v-5h3v4h1v1h1v1h1v-2h1v-1h2v1h1v2h1v1h2v-2h1v-1h1v1h1v1h1v1h1v-1h6v1h2v-1h1v-1h3v-1h5v3h2v-5h1v-4h1v-1h2v1h1v6h1v-1h1v1h1v-5h1v-1h2v1h1v6h2v-2h1v-1h1v-4h3v2h3v-3h1v-1h2v1h1v3h1v-1h2v1h1v3h2v-6h3v5h3v-5h3v2h1v3h1v-1h1v-7h3v1h1v4h2v-1h2v1h1v2h1v-1h1v-1h2v1h1v-6h1v-1h1v1h2v3h1v1h1v8h1v-3h2v-10h4v9h1v-5h1v-1h2v1h1v2h1v-1h1v1h1v2h1v1h1v1h1v1h3v-1h1v1h1v-1h1v1h1v-2h2v-1h1v-3h3v5h1v-6h3v5h3v-8h3v7h1v1h3v-1h4v-1h1v-1h3v1h1v-1h3v1h2v5h1v-1h3v-1h3v1h1v-3h3v2h1v-1h1v-2h3v7h1v-3h1v-5h3v4h1v2h1v2h1v-3h1v-4h1v-1h2v1h1v2h1v-1h2v1h2v-5h1v-14h1v-19h1v-13h1v-1h2v1h1v19h1v15h1v12h1v6h3v-3h1v-1h1v1h1v6h2v-2h1v-4h1v-1h2v1h1v2h2v-1h1v-1h1v-1h1v-1h1v-8h1v-14h1v-24h1v-1h4v9h1v25h1v10h1v6h2v-2h1v-1h2v1h1v6h3v-2h1v-1h2v-1h3v4h1v-1h2v-1h1v-3h3v2h1v-1h1v-1h3v1h1v2h1v-2h1v-1h1v1h1v2h1v2h2v-8h1v-1h1v1h2v5h1v1h2v-4h1v-2h1v-1h2v1h1v-15h1v-18h1v-6h1v-1h1v1h1v2h1v5h1v28h1v5h1v-2h1v-1h6v2h3v1h1v-1h1v-2h1v-1h1v1h1v4h2v1h1v-3h1v-1h2v1h4v-3h5v1h1v2h1v-1h2v1h1v-1h2v1h1v-1h2v-2h4v1h5v1h1v-3h3v5h1v-1h2v-3h1v-6h1v-2h3v9h1v4h1v-5h1v-2h4v2h1v-6h1v-3h3v-1h2v1h1v5h3v1h1v1h2v-1h2v-2h2v1h1v2h1v-4h3v4h1v-3h1v-3h1v-1h2v1h1v4h1v1h1v-1h1v-4h1v-1h1v1h1v2h2v-1h1v-1h2v1h2v1h3v3h1v-1h1v-1h1v-5h3v3h2v4h2v-3h3v1h1v-2h1v-4h1v-1h1v1h1v2h3v1h1v1h1v2h2v-1h1v-7h3v1h1v9h2v-2h1v-1h1v-1h1v-7h3v4h2v-1h2v1h1v5h1v-3h5v1h1v-7h1v-1h2v1h2v-1h1v1h2v-1h1v-8h1v-10h1v-27h1v-40h1v-19h1v-16h4v6h1v32h1v29h1v32h1v19h1v-3h3v-1h1v-1h1v1h1v7h3v1h4v-1h2v-2h1v-1h1v-1h3v-1h4v5h3v-1h1v-3h3v10h3v-4h1v-1h3v-1h1v-3h1v-1h1v1h1v1h1v1h2v-1h4v-2h1v-3h1v-8h1v-10h1v-22h1v-9h1v-4h1v-1h2v1h1v18h1v11h1v16h1v11h1v1h1v1h2v-3h3v2h2v1h1v-5h1v-1h1v-3h3v7h1v-3h4v1h2v3h1v-2h5v-3h3v3h1v-2h1v-1h2v1h1v1h2v1h1v4h1v-2h1v-3h3v-7h3v1h1v5h7v-4h1v-1h2v1h1v7h1v-2h1v-1h4v3h1v-2h1v-5h3v7h2v1h1v-1h3v2h1v-3h1v-1h1v1h1v-1h2v-1h2v1h1v2h1v-1h1v-4h1v-4h3v2h3v3h1v-2h3v3h1v-4h1v-1h1v1h1v-5h1v-17h4v4h1v7h1v8h2v1h1v5h2v1h2v1h1v1h1v-4h3v3h3v-4h3v-1h1v1h1v6h1v-4h1v-1h1v1h1v3h1v-12h6v1h1v4h1v1h1v2h1v-2h3v-1h1v-4h1v-1h3v-2h1v-1h1v1h1v6h1v-1h1v-1h2v1h1v-1h2v-1h1v-1h1v-4h1v-1h2v1h1v4h1v-3h1v-3h1v-1h1v-1h3v2h1v-1h1v1h2v-2h1v-1h1v-7h1v-1h2v1h1v4h1v5h1v1h1v-2h1v-5h1v-1h3v-2h3v4h1v-2h1v-4h3v7h1v-5h4v1h3v-1h1v-1h4v-1h2v-10h1v-1h2v1h1v4h2v-2h4v-5h5v-1h1v-6h1v-1h2v-7h3v4h2v-5h1v-3h2v-14h1v-1h2v-4h1v-1h2v-6h1v-5h2v-13h1v-3h4v-14h1v-6h1v-1h1v-10h1v-4h1v-7h3v-3h1v-6h3v2h2v1h1v1h1v8h1v5h2v2h1v13h1v8h1v2h1v1h2v1h1v14h2v6h1v3h1v2h2v1h1v6h1v1h1v5h1v6h1v2h1v-1h2v1h1v1h2v1h1v1h4v3h2v3h1v-4h3v1h1v1h1v2h1v-1h1v1h1v6h3v2h2v1h2v-4h1v-1h1v1h1v5h4v3h2v-1h2v1h2v-3h1v-1h2v1h1v1h1v1h1v1h1v-1h1v1h1v1h2v1h1v-2h1v-1h1v1h1v-12h1v-6h3v7h1v9h1v4h4v1h1v6h2v-2h1v-1h2v1h1v8h1v-11h3v1h1v3h2v5h1v1h3v1h1v4h1v-4h6v3h3v-1h1v1h1v-5h1v-1h2v1h1v2h2v1h1v2h3v2h1v1h2v-1h1v-1h1v-1h2v1h1v2h2v-3h3v4h3v-5h6v6h1v1h1v2h1v-1h3v4h1v-6h1v-1h1v1h1v3h1v-1h2v-3h1v-1h4v5h1v-4h1v-1h2v1h1v2h2v-4h3v3h1v-1h1v-4h3v1h1v9h1v-2h1v-5h1v-1h2v1h2v-1h2v1h1v-4h1v-1h2v1h1v4h2v-4h1v-1h1v1h1v2h1v-1h1v-1h1v1h1v6h1v1h1v1h2v-4h4v1h2v1h1v1h2v-1h2v1h1v6h1v-5h2v1h1v1h3v4h1v5h3v1h1v-7h1v-1h1v1h1v4h2v9h1v1h1v1h3v1h1v1h1v1h3v1h1v-5h3v-1h2v1h1v7h3v1h1v-1h1v-2h3v-6h2v-6h3v2h1v3h1v1h1v8h1v-1h2v1h1v2h2v7h1v2h1v-7h1v-1h1v-1h1v1h1v5h1v2h2v-3h1v-1h1v1h2v5h3v-2h3v-1h1v-1h1v1h1v-1h2v1h1v6h1v-2h1v-1h2v1h1v1h2v-1h1v-3h4v-1h1v-1h2v1h1v5h1v-2h3v6h1v-5h1v-1h2v1h1v3h4v-1h1v-1h2v1h1v3h1v1h1v1h1v-1h3v1h1v-2h3v1h1v1h1v-5h4v8h1v1h1v-4h3v2h3v-5h3v2h1v1h1v-2h3v2h2v-1h3v2h1v-1h1v-1h4v3h1v1h1v1h1v-3h1v-1h2v-2h3v1h1v1h2v-1h1v-1h2v1h1v3h1v-2h1v-3h6v8h1v-10h1v-1h2v1h1v1h3v1h2v1h1v1h2v-1h1v1h1v2h1v-1h1v1h1v-3h3v1h4v3h1v2h1v-1h1v-4h6v-1h5v2h1v1h1v-3h2v-5h3v6h4v-1h2v1h1v2h3v-1h1v-2h3v2h1v-6h1v-1h2v1h4v5h1v-1h1v-1h2v1h1v4h2v-5h3v1h1v2h3v1h2v1h2v-1h1v1h1v2h2v-7h1v-1h1v1h1v3h1v-1h2v1h1v1h1v3h1v-5h3v1h1v1h1v3h1v-3h1v-1h2v1h1v1h1v1h1v1h2v1h3v-1h3v1h1v-3h3v3h1v-1h2v-2h1v-1h1v1h2v2h2v3h2v-5h3v1h1v-1h1v1h2v1h1v2h3v3h1v-3h2v-1h2v1h1v-1h2v-1h2v1h1v-2h1v-1h3v2h2v1h1v3h3v-3h3v-9h3v6h1v-2h1v-1h1v1h1v6h1v-1h2v1h1v2h1v-1h2v-6h3v4h1v2h1v-2h3v4h1v-3h2v-5h4v1h1v3h5v-1h1v1h2v1h1v5h2v-1h1v-8h1v-1h4v3h1v-1h2v1h1v2h2v1h2v1h1v1h1v-4h1v-1h2v1h1v4h1v-1h1v-3h3v4h1v-1h3v2h2v1h3v-4h1v-1h3v2h1v-5h3v1h2v5h1v1h3v-1h2v-8h1v-1h2v1h1v1h1v6h3v1h2v2h1v-1h1v-1h1v1h1v1h1v-1h2v-1h1v1h1v-5h1v-1h2v1h1v1h1v-1h1v1h1v4h1v1h2v-4h3v1h1v-5h3v6h2v1h3v-6h3v7h2v1h2v-1h2v-5h3v1h1v5h-1v4h-1v5h-2v3h-3v5h-3v-6h-2v-1h-1v-1h-3v-3h-1v1h-2v3h-3v1h-1v2h-1v1h-2v-1h-1v4h-3v1h-1v-1h-1v-8h-1v-2h-1v1h-2v-1h-1v-2h-1v4h-1v3h-3v-1h-2v1h-2v-1h-1v-2h-1v1h-4v3h-1v1h-2v-1h-1v1h-2v-1h-1v2h-1v1h-2v-1h-1v-1h-4v1h-2v-1h-1v-3h-3v-3h-1v-2h-1v-1h-1v6h-1v1h-1v-1h-3v-5h-1v1h-1v1h-2v-1h-1v-1h-1v3h-1v1h-3v-2h-2v-2h-3v2h-3v-3h-1v3h-1v1h-1v1h-4v1h-1v1h-2v-1h-1v-7h-2v1h-2v3h-2v1h-1v1h-2v-1h-3v2h-1v1h-2v-1h-1v-8h-1v-1h-1v2h-1v1h-2v1h-2v1h-2v-1h-1v-2h-1v3h-1v4h-1v1h-3v-5h-1v1h-2v3h-1v1h-2v-1h-1v-1h-1v-4h-1v2h-3v1h-1v1h-1v1h-1v1h-2v-1h-1v-4h-3v-1h-1v-3h-1v6h-1v1h-2v-1h-2v-1h-1v-4h-1v1h-5v-2h-1v2h-1v1h-1v1h-4v-3h-2v-1h-2v1h-2v-1h-2v1h-3v-2h-1v3h-1v1h-2v-1h-1v-1h-2v-1h-1v-1h-1v1h-1v1h-1v-1h-1v2h-1v1h-1v1h-3v-2h-1v1h-3v1h-2v-1h-1v-4h-1v1h-1v1h-1v1h-2v-1h-1v-2h-2v-4h-1v3h-1v1h-2v-1h-1v-2h-1v6h-1v1h-2v-1h-1v-3h-1v-1h-2v3h-3v-2h-1v-2h-2v-2h-2v1h-3v5h-3v-5h-1v-2h-1v1h-1v5h-2v1h-2v-1h-1v-4h-3v3h-4v-3h-2v4h-3v-4h-1v1h-1v8h-1v1h-1v-1h-1v-7h-1v-2h-1v-1h-1v-1h-3v5h-3v-3h-1v5h-1v1h-2v-1h-1v-5h-1v-1h-1v3h-3v-1h-1v-1h-3v1h-4v4h-1v3h-1v1h-2v-1h-1v-7h-2v1h-1v6h-3v-6h-2v4h-2v1h-1v1h-2v-1h-1v-1h-1v1h-1v-1h-1v-4h-1v3h-1v1h-2v-1h-1v1h-1v1h-1v-1h-1v-2h-1v-3h-1v1h-2v-1h-2v2h-3v6h-2v1h-2v1h-1v-1h-1v-9h-2v1h-1v1h-2v-1h-2v5h-1v1h-1v-1h-2v-4h-2v-2h-1v-1h-1v4h-3v1h-2v-1h-5v-5h-2v1h-1v1h-1v-1h-1v-2h-2v-3h-1v1h-1v1h-3v-2h-3v3h-1v1h-2v-1h-1v-1h-2v2h-1v3h-3v-7h-1v7h-3v-3h-2v-3h-1v3h-1v1h-1v-1h-1v-5h-2v-1h-1v2h-2v5h-3v-6h-1v-4h-1v1h-1v2h-1v1h-3v-1h-1v-3h-1v1h-1v2h-3v-5h-2v3h-4v-1h-1v-3h-2v-2h-2v3h-3v-5h-1v-1h-1v-9h-1v4h-1v1h-1v1h-1v2h-2v4h-1v1h-1v-1h-1v-1h-1v-5h-1v2h-1v9h-1v1h-1v-1h-1v-7h-1v-2h-1v4h-1v1h-3v-11h-1v5h-1v1h-2v-1h-1v-1h-3v-7h-2v-2h-1v1h-1v1h-2v-1h-1v-3h-2v-2h-1v-1h-3v1h-3v-5h-1v-1h-1v1h-2v-1h-1v-2h-1v-1h-1v-1h-1v1h-2v3h-1v1h-2v1h-1v-1h-1v-3h-2v-1h-1v-5h-1v1h-2v-1h-1v-3h-1v-3h-1v7h-5v3h-3v-4h-1v2h-1v4h-3v-2h-2v1h-2v1h-2v-1h-1v7h-4v-9h-1v-3h-3v1h-1v2h-1v1h-2v-1h-1v-2h-1v1h-4v5h-1v1h-2v-1h-1v-3h-2v-1h-1v-3h-2v6h-1v1h-1v-1h-1v-5h-1v-1h-1v5h-1v1h-1v1h-1v-1h-1v-8h-2v1h-1v1h-1v-1h-1v-3h-3v5h-1v1h-6v-1h-1v-4h-3v-3h-1v3h-2v5h-1v1h-1v-1h-1v-1h-1v-5h-1v1h-1v-1h-1v-1h-1v1h-2v-1h-1v1h-1v-1h-1v-1h-2v-1h-2v3h-3v-6h-1v9h-3v-4h-2v-2h-1v2h-1v1h-1v-1h-1v-1h-1v-5h-3v-1h-1v-2h-1v-4h-1v-1h-3v-1h-1v-1h-1v-1h-3v5h-1v1h-2v1h-4v-1h-1v-2h-1v-1h-1v1h-1v-1h-1v-1h-1v2h-1v4h-1v1h-1v-1h-1v-5h-1v-5h-1v3h-1v1h-2v-1h-1v4h-1v1h-2v-1h-1v-6h-1v-3h-1v-1h-1v2h-1v2h-1v1h-2v-1h-1v-7h-2v-1h-1v3h-1v1h-2v-1h-2v-1h-1v-2h-3v-5h-1v1h-3v-1h-2v-5h-1v-1h-2v-5h-1v3h-1v1h-2v-1h-1v-8h-1v-2h-1v-5h-1v-1h-1v-3h-2v-4h-1v-10h-1v-1h-1v-5h-1v-2h-1v-6h-1v-1h-1v-4h-1v-1h-1v-2h-1v-7h-1v-11h-1v-5h-1v-6h-1v-1h-1v2h-1v1h-1v-1h-3v8h-1v5h-1v11h-1v1h-1v4h-1v8h-1v1h-2v13h-1v1h-1v6h-2v5h-1v7h-3v10h-1v1h-2v9h-1v1h-3v4h-2v1h-1v3h-1v3h-3v3h-1v1h-3v6h-1v1h-3v1h-1v1h-1v5h-3v-4h-2v1h-1v4h-1v3h-3v-2h-2v1h-1v1h-1v-1h-1v-1h-1v1h-1v1h-2v2h-2v5h-1v1h-2v-1h-1v1h-1v1h-2v-1h-1v-3h-2v1h-3v5h-4v-2h-3v-1h-3v4h-3v-3h-1v2h-1v1h-4v1h-1v4h-1v1h-2v-1h-5v2h-2v4h-1v5h-3v-5h-2v-2h-1v-4h-1v4h-3v-1h-2v1h-1v-1h-1v3h-2v1h-4v-1h-1v-1h-1v-5h-1v8h-2v2h-3v-3h-1v1h-1v5h-1v1h-2v-1h-1v-5h-1v2h-1v1h-3v-1h-1v-2h-2v1h-1v1h-1v-1h-1v-2h-1v4h-3v-1h-1v-2h-2v-1h-1v-4h-1v-7h-1v8h-1v1h-2v-1h-1v5h-3v-1h-3v1h-1v-1h-1v-3h-1v5h-1v1h-1v-1h-1v4h-1v1h-2v6h-3v-6h-1v-4h-1v2h-1v1h-1v-1h-1v-2h-1v2h-6v-1h-1v-5h-1v2h-1v1h-1v6h-1v1h-1v-1h-1v-4h-1v2h-3v9h-1v1h-1v-1h-1v-7h-1v-3h-4v1h-2v-1h-1v-2h-2v4h-1v1h-2v-1h-1v2h-3v-4h-2v-1h-1v-2h-1v1h-1v3h-1v1h-4v-4h-1v-1h-1v-1h-2v7h-3v-1h-3v1h-4v1h-3v-5h-3v-1h-1v6h-1v1h-3v-1h-4v-5h-2v-2h-1v-4h-1v-6h-1v-17h-1v-8h-1v9h-1v11h-1v6h-1v4h-1v6h-5v1h-1v5h-4v1h-2v2h-1v1h-2v-1h-1v1h-1v3h-3v2h-3v-3h-1v-6h-8v-1h-1v-1h-2v6h-1v1h-1v-1h-1v-7h-1v3h-2v3h-2v6h-1v1h-3v-12h-2v1h-1v1h-2v-1h-1v-3h-2v-5h-1v-10h-1v-32h-1v-27h-1v4h-1v31h-1v18h-1v7h-1v9h-1v1h-1v2h-1v5h-2v1h-1v3h-4v6h-1v3h-1v1h-2v-1h-3v-1h-1v-1h-1v1h-3v-3h-1v1h-2v-1h-1v-3h-1v1h-1v3h-1v1h-2v-1h-1v-1h-1v1h-1v4h-3v-4h-1v-4h-1v4h-1v1h-2v-1h-1v-3h-2v5h-3v-4h-1v-1h-1v4h-1v1h-3v-1h-1v-1h-1v1h-1v-1h-1v-2h-2v-1h-2v3h-1v1h-2v-1h-1v1h-2v4h-4v-1h-1v-1h-1v-1h-3v-5h-1v4h-1v1h-1v-1h-1v4h-3v-3h-1v-2h-2v4h-1v1h-1v-1h-1v-2h-1v7h-1v1h-2v-1h-1v-8h-1v-1h-3v6h-1v2h-3v-5h-2v7h-1v1h-3v-2h-5v-1h-1v-2h-3v-1h-3v-2h-1v1h-1v1h-1v7h-1v1h-2v-1h-1v-2h-1v-1h-2v-1h-1v-1h-1v1h-1v-1h-3v-1h-2v1h-1v3h-1v1h-1v-1h-1v-1h-1v-1h-1v-1h-1v-1h-1v2h-1v1h-2v-1h-1v-2h-1v1h-1v3h-3v5h-1v1h-2v-1h-1v-8h-1v-2h-1v4h-1v1h-3v5h-3v-5h-1v-3h-1v1h-1v-1h-1v-1h-1v-4h-1v5h-4v-12h-1v-8h-1v24h-1v5h-1v1h-1v-1h-1v-3h-3v-2h-3v-3h-1v1h-1v7h-1v1h-1v4h-3v-3h-2v-1h-1v-4h-1v6h-4v-2h-1v-5h-2v-1h-1v1h-2v-1h-2v1h-3v-2h-1v2h-1v10h-1v1h-1v-1h-1v2h-3v-6h-1v-6h-1v11h-3v-4h-1v-9h-1v-1h-1v-7h-1v-6h-1v-5h-1v-9h-1v12h-1v8h-1v6h-1v8h-1v1h-1v-1h-1v-4h-1v3h-1v1h-1v1h-1v1h-2v-1h-2v8h-1v1h-2v-1h-1v-10h-1v-1h-1v-1h-1v2h-4v-4h-1v-4h-1v-16h-1v-1h-1v10h-1v5h-1v6h-2v5h-1v1h-2v-1h-1v-4h-1v1h-1v3h-1v1h-2v-1h-1v1h-3v-1h-1v3h-1v1h-2v-1h-1v-2h-1v-4h-2v4h-1v1h-2v-1h-1v1h-1v4h-3v-4h-3v1h-4v-3h-1v8h-4v-3h-1v-1h-1v-1h-1v6h-1v1h-1v-1h-1v-6h-4v-1h-1v1h-1v4h-3v-4h-2v1h-2v-1h-1v-3h-1v1h-1v-1h-1v-2h-1v3h-3v2h-4v-1h-3v-3h-5v-5h-1v1h-1v15h-1v1h-1v-1h-1v-2h-1v-7h-1v1h-1v-1h-1v-1h-3v-1h-1v3h-1v1h-2v-1h-1v-2h-1v1h-1v-1h-2v1h-1v2h-1v1h-2v-1h-1v1h-3v-4h-3v-1h-1v6h-3v-6h-1v3h-3v1h-1v-1h-1v-2h-3v-1h-1v3h-3v-3h-1v6h-4v-1h-1v8h-3v-5h-2v-3h-2v-7h-1v3h-1v4h-3v1h-1v1h-1v-1h-1v-4h-1v-1h-1v-2h-2v2h-1v1h-3v1h-2v-1h-1v-2h-1v3h-3v-1h-1v1h-3v1h-2v2h-1v1h-2v-1h-3v-1h-1v-2h-2v-1h-4v-1h-1v3h-1v2h-1v2h-3v-2h-1v-5h-1v3h-1v1h-4v-1h-2v-2h-1v1h-1v3h-2v2h-3v1h-4v-2h-3v-2h-1v1h-2v-1h-1v5h-1v6h-1v1h-2v-1h-1v-2h-3v-9h-1v-1h-2v3h-1v1h-1v-1h-1v3h-3v-3h-3v5h-4v-2h-2v-4h-1v1h-2v1h-3v5h-3v-6h-1v1h-3v2h-1v3h-3v-2h-1v-2h-2v-1h-1v-2h-2v4h-3v9h-3v-6h-1v-5h-1v1h-2v-1h-4v-2h-1v9h-1v1h-2v-1h-1v-5h-1v-2h-3v2h-1v1h-1v-1h-1v-1h-3v-3h-1v-2h-1v-2h-1v-1h-1v-1h-2v2h-1v7h-3v-4h-1v4h-2v1h-2v8h-3v-9h-1v-6h-1v-3h-1v7h-1v1h-2v-1h-1v-1h-4v-3h-2v5h-1v1h-1v-1h-1v-3h-1v4h-1v1h-1v-1h-1v-6h-1v3h-1v1h-3v-1h-1v3h-3v-2h-1v-8h-1v4h-1v3h-3v-4h-2v1h-1v5h-3v-4h-2v1h-2v-1h-1v-4h-1v-1h-1v-1h-2v-4h-1v1h-1v1h-2v-1h-1v3h-1v4h-1v1h-1v-1h-5v1h-1v1h-1v1h-2v-1h-1v-7h-3v7h-1v1h-2v-1h-1v-1h-1v1h-2v8h-1v1h-2v-1h-1v1h-3v-1h-3v-5h-1v-3h-1v3h-2v9h-1v1h-2v-1h-1v-8h-1v12h-1v1h-2v-1h-1v-5h-1v1h-2v-3h-1v-3h-1v2h-1v1h-1v9h-3v-7h-1v1h-1v1h-1v-1h-1v-1h-1v6h-6v-2h-3v-2h-2v-3h-1v7h-3v-1h-2v-1h-1v10h-3v-7h-1v-3h-3v-2h-3v8h-1v1h-1v-1h-1v-9h-1v-2h-1v1h-1v3h-4v-4h-1v-1h-1v5h-1v1h-2v-1h-1v-6h-1v1h-2v-1h-1v-4h-2v-3h-1v1h-5v-1h-3v-1h-1v-3h-3v6h-3v-9h-1v-5h-1v-1h-1v-1h-2v-1h-2v5h-3v-8h-1v-3h-1v-5h-1v10h-1v1h-2v-1h-1v-12h-1v1h-1v1h-3v-4h-1v-4h-1v-3h-1v-1h-3v90h-4z" fill="#800000" shape-rendering="crispEdges"/>
<path d="M191,934h1v-4h3v1h1v6h1v-1h1v-3h1v-3h3v3h1v-1h2v1h1v3h3v1h1v2h6v1h1v-2h2v1h1v4h2v-1h1v-7h3v6h1v-1h3v2h2v5h1v-2h5v1h2v1h1v4h1v-1h1v-2h1v-1h1v-1h3v-1h1v-2h1v-4h1v-1h2v1h2v1h1v4h1v-1h1v-1h1v-2h1v-1h2v1h2v-1h3v-1h1v-1h3v1h2v1h1v4h1v-10h1v-1h2v1h1v5h1v3h1v-1h1v-2h1v-2h1v-5h1v-3h1v-4h1v-1h1v-1h1v-3h1v-1h2v-6h2v-5h1v-2h1v-4h1v-1h1v-6h1v-3h1v-1h2v-4h4v3h1v-1h1v1h1v3h1v5h1v6h1v5h1v4h3v3h1v6h2v1h1v4h1v-1h1v-1h1v-1h2v1h1v4h1v-1h1v-3h4v5h1v2h2v-2h1v-3h2v-1h2v1h1v3h2v1h1v4h1v1h2v-1h1v-3h3v2h1v1h1v1h1v-1h2v1h1v-8h1v-11h4v8h1v2h1v1h1v7h2v-1h3v-4h1v-1h2v1h1v1h2v-1h1v1h2v5h3v-1h3v2h2v-6h3v4h1v1h1v2h1v-8h1v-1h2v1h1v3h1v3h2v-3h1v-1h2v1h1v1h2v-3h1v-3h3v3h1v1h1v-4h4v3h1v1h1v1h1v1h2v-1h1v-1h3v1h1v-1h3v1h2v-9h1v-1h2v1h1v5h1v-1h3v2h2v2h2v1h3v-1h3v-1h2v1h1v1h2v1h2v-1h2v-1h1v-1h1v1h1v1h1v-1h2v-1h2v-1h1v-3h3v5h3v1h1v-3h3v2h3v-6h1v-1h2v1h1v1h3v3h2v1h1v4h1v-1h1v-3h4v-1h1v1h2v-5h3v1h2v1h3v5h1v-1h2v-1h1v-3h1v-5h3v4h1v1h2v-3h4v-2h3v-1h1v-4h3v-2h1v-1h2v1h1v1h1v-4h3v5h3v5h4v5h1v-3h6v1h1v3h1v-1h1v-3h1v-1h2v1h1v2h1v-1h2v1h1v1h2v-5h3v6h1v-2h2v-1h2v1h1v5h1v-2h1v-1h2v1h1v-4h1v-2h3v3h1v1h1v-1h2v1h1v-1h2v1h1v-2h1v-1h2v1h1v-1h2v1h1v-3h3v4h1v-2h1v-2h1v-1h1v1h1v-2h7v3h1v-2h3v1h1v2h2v2h1v-2h3v2h1v3h1v-7h1v-1h2v1h1v4h1v-4h1v-1h2v1h1v2h4v5h2v-1h1v-3h3v1h1v1h2v1h2v2h1v-11h1v-1h2v-22h1v-7h1v-2h3v8h1v19h1v8h2v-1h2v1h1v1h1v-1h2v1h1v4h5v-1h1v-1h1v-2h3v3h4v-1h1v-1h1v1h1v2h1v-2h3v-1h1v-1h2v-2h3v5h1v-2h5v-1h1v-1h2v1h1v-1h1v-1h4v1h2v2h1v1h1v-2h1v-1h1v1h1v-4h1v-3h1v-16h1v-26h1v-6h1v-1h1v1h1v1h1v11h1v12h1v19h1v9h4v3h1v-5h1v-1h2v1h1v2h1v1h1v-2h1v-1h1v1h1v-1h1v-1h3v-1h1v-4h1v-14h1v-24h1v-15h1v-1h1v-1h1v1h1v10h1v19h1v25h1v7h1v3h1v-3h1v-3h3v-1h2v1h1v3h2v1h2v-1h3v1h1v1h5v-2h3v1h4v3h1v-4h3v1h2v1h3v-2h1v-1h2v1h1v3h1v1h1v-3h1v-1h2v-12h1v-18h1v-4h1v-2h3v11h1v12h1v3h1v-4h1v-5h1v-2h4v8h1v13h4v2h3v-1h1v1h1v4h1v-2h1v-2h1v-1h2v1h1v1h3v2h2v-2h1v-1h4v1h2v1h1v-3h3v5h2v-3h3v1h2v1h1v1h1v1h1v-1h1v-4h4v-3h3v4h2v-3h3v-1h4v3h2v-3h1v-1h2v1h1v3h2v-4h1v-1h1v1h1v5h3v1h1v2h1v-1h1v-1h1v-1h1v-3h4v-1h2v-2h1v-1h3v2h1v-2h1v-1h2v1h1v1h1v4h1v-1h1v-4h2v1h1v1h1v-1h1v-7h1v-1h2v1h1v1h1v1h1v4h1v-3h1v-1h1v-3h1v-1h2v1h1v2h1v3h1v3h2v-2h3v1h3v1h1v1h2v-11h1v-2h3v-1h1v-11h1v-8h1v-1h2v1h2v12h1v11h1v3h3v2h3v3h1v1h1v-5h4v2h3v-5h1v-1h2v1h1v1h1v-1h4v-4h1v-1h1v-5h1v-9h1v-28h1v-37h1v-37h1v-10h1v-2h3v9h1v29h1v41h1v22h1v23h1v8h1v1h2v1h2v1h2v-1h3v1h1v3h1v-3h3v1h1v-1h2v1h4v6h3v-4h1v-6h1v-1h1v1h1v7h1v1h2v-3h5v1h3v2h1v-1h2v-3h1v-1h2v1h1v2h2v-5h1v-2h1v-7h1v-15h1v-24h1v-27h1v-7h3v1h1v6h1v27h1v21h1v20h1v4h1v2h2v1h1v-4h1v-1h4v-2h1v-1h1v1h1v1h1v-1h4v2h1v-1h1v-2h1v-5h3v5h1v1h1v-1h2v1h1v1h2v2h1v1h1v-5h1v-1h3v-3h2v1h1v5h1v1h5v-5h1v-2h1v-1h2v1h3v-2h1v-1h2v-1h1v-2h4v-1h1v-1h1v-1h2v-3h2v1h1v-1h2v-1h4v-2h4v-1h1v-5h1v-1h3v-1h1v-4h2v-1h2v-4h1v-3h2v-2h1v-2h1v-4h2v-10h1v-5h1v-8h1v-3h1v-8h1v-6h1v-9h1v-16h1v-10h1v-13h1v-11h1v-19h1v-10h1v-10h1v-8h1v-10h1v-7h1v-7h1v-1h3v1h1v3h1v11h1v1h1v13h1v4h1v22h1v12h1v7h1v15h1v9h1v8h1v6h1v10h1v9h1v1h1v5h1v10h1v6h1v3h1v9h3v1h1v8h1v3h2v5h1v-1h1v1h1v-4h3v7h1v5h1v3h3v1h1v-1h1v1h1v2h2v1h1v2h3v-1h1v1h1v5h1v-6h1v-1h2v1h1v3h5v5h1v1h1v-3h5v-1h1v1h1v1h2v1h1v2h1v2h1v-4h1v-1h2v-2h1v-1h2v-3h4v-1h1v-3h2v-2h7v6h4v-6h1v-1h2v1h1v6h5v1h2v-3h1v-1h1v1h1v1h1v1h1v1h1v1h3v-3h1v-1h2v1h1v2h1v-1h2v1h1v-2h1v-4h4v-2h1v-1h1v1h1v3h1v-2h3v-1h1v-3h3v-5h1v-1h1v1h2v5h1v-3h3v-2h1v-1h1v-2h1v-1h4v-3h1v-1h2v1h1v-1h1v-5h1v-1h2v1h1v2h1v-9h1v-1h2v1h3v1h1v-4h2v-4h4v2h1v-5h1v-1h2v1h1v2h3v1h1v1h2v6h2v2h1v2h3v1h1v1h1v6h1v3h2v1h2v-1h2v1h1v7h1v-1h2v1h1v3h4v1h1v1h1v-1h2v1h1v8h1v-1h1v-2h3v3h1v4h1v-1h1v-1h2v1h1v-2h2v-3h1v-1h2v-7h2v-1h1v-1h2v1h1v10h1v4h3v1h2v-1h2v-4h1v-1h2v1h1v3h1v-1h2v1h1v3h1v2h1v-1h3v1h1v3h4v3h1v-1h2v1h1v1h1v-1h3v1h1v3h2v1h1v-4h3v2h1v-1h2v1h3v-1h1v-1h2v1h1v1h1v2h2v2h1v1h1v-4h1v-1h4v1h2v2h3v1h4v-1h1v-1h5v3h2v-2h3v-1h2v1h1v4h1v-6h1v-1h1v1h1v4h1v2h1v2h1v-2h1v-1h2v1h1v1h6v2h1v-3h1v-3h1v-1h1v1h1v6h1v-2h2v-2h1v-1h2v1h1v3h1v1h1v-2h1v-1h2v-1h2v1h1v2h1v-1h2v1h1v-2h3v4h1v-1h1v1h1v1h4v1h1v2h1v-4h1v-1h3v2h1v1h1v1h1v-2h3v3h1v-3h1v-1h2v1h2v1h1v3h1v-2h1v-1h1v1h1v1h1v-1h2v1h1v1h1v-1h1v-3h1v-1h4v-9h3v2h2v1h1v8h1v1h1v-2h3v1h1v-2h1v-3h1v-5h1v-7h1v-3h1v-1h1v1h1v7h1v4h1v7h1v3h1v2h1v-1h1v-4h4v5h1v-1h1v-1h4v-1h3v1h1v3h2v-2h1v-1h2v-2h3v3h1v-2h3v2h1v2h1v-3h1v-1h1v-1h2v1h1v6h1v-1h1v-4h1v-1h2v1h1v3h1v-1h2v1h2v-1h1v1h1v1h3v-1h1v-3h1v-1h2v1h1v2h1v1h1v-1h1v-1h2v1h1v1h1v1h1v1h3v-1h2v1h2v1h1v-1h1v1h1v1h1v-6h1v-1h2v1h1v4h2v1h3v-1h1v1h2v-1h1v-2h3v2h1v-1h1v-3h1v-3h1v-1h1v1h1v9h1v-1h1v-5h4v-3h3v1h1v9h1v-4h3v1h2v3h2v-5h4v4h1v-5h1v-3h3v6h1v2h2v-1h3v-1h2v1h1v2h1v-1h1v-1h5v-3h3v1h1v-1h2v1h3v1h1v-2h3v1h1v-2h2v1h1v2h1v-3h2v-5h1v-1h1v1h2v-3h1v-1h2v1h1v6h1v-6h3v5h1v1h1v-3h4v4h1v1h1v3h2v1h1v1h2v-3h1v-4h1v-1h1v1h1v4h2v-7h1v-1h2v1h1v1h1v1h1v5h4v3h1v1h1v-1h2v1h3v-1h1v-3h3v1h1v-6h1v-1h2v1h1v7h2v-1h2v-2h1v-1h2v1h1v3h1v-2h3v-4h1v-1h2v1h1v4h1v1h2v1h1v-1h4v-4h3v1h1v3h2v-1h3v-1h2v1h1v1h1v1h1v2h1v-1h1v-3h1v-2h1v-1h2v-2h3v7h1v-2h2v-6h4v4h4v2h2v1h1v1h2v-6h3v2h2v1h1v3h1v-4h3v5h1v-3h1v-5h3v4h1v-1h1v1h3v1h1v-1h1v-1h2v1h2v-2h3v-2h1v-1h4v1h1v3h2v-5h4v1h1v-3h1v-1h1v1h1v2h1v-1h3v-1h1v-1h2v1h2v-6h1v-4h2v-1h1v1h1v3h1v-7h1v-4h4v-4h3v1h1v-2h1v-2h1v-1h1v-4h3v-2h3v4h1v1h1v-3h1v-1h2v1h1v1h1v-1h1v-1h2v1h1v11h1v-1h2v1h1v2h1v-1h1v-1h2v1h1v7h1v4h1v1h1v-1h3v2h1v1h1v3h1v-1h2v1h1v1h2v1h1v3h2v-1h3v1h1v4h6v1h5v1h1v-3h1v-1h2v1h1v3h1v1h1v-5h3v3h1v1h2v-1h2v1h3v1h3v2h1v-2h2v-1h1v-1h1v1h2v-2h4v3h-1v7h-1v1h-1v8h-1v1h-2v-1h-1v-5h-1v1h-1v1h-1v1h-3v1h-2v-1h-1v-4h-1v1h-1v1h-2v-1h-1v-1h-3v-1h-1v3h-3v-2h-1v1h-1v-1h-1v1h-6v-2h-1v-1h-1v-1h-1v1h-1v2h-3v-3h-1v-2h-1v-1h-1v1h-1v1h-2v-1h-1v-1h-1v-3h-1v3h-3v-2h-1v-1h-3v-6h-1v-3h-1v-1h-1v-1h-1v4h-3v-5h-2v-1h-1v-2h-1v-6h-1v-3h-3v-1h-1v-6h-1v3h-1v1h-2v-1h-1v-2h-1v1h-1v-1h-1v-1h-1v1h-4v7h-1v1h-2v-1h-2v1h-1v4h-1v3h-1v1h-1v3h-3v1h-1v1h-1v2h-2v3h-1v1h-1v1h-1v1h-2v-1h-4v2h-1v1h-2v-1h-2v4h-3v-1h-1v6h-3v-2h-2v1h-4v-2h-1v-2h-3v1h-1v1h-2v3h-4v-1h-5v-1h-2v1h-1v-1h-2v1h-5v-2h-1v1h-1v1h-2v3h-1v1h-2v-1h-1v-2h-1v1h-2v-1h-1v-4h-1v-1h-1v3h-1v1h-4v2h-3v-2h-4v-1h-1v1h-1v5h-3v-2h-1v-1h-1v-3h-1v1h-1v-1h-1v-1h-1v3h-1v1h-1v-1h-1v1h-4v-2h-1v1h-1v1h-1v1h-1v-1h-1v-1h-1v-1h-1v-1h-2v-1h-4v3h-3v-2h-1v-1h-1v3h-1v2h-1v1h-4v-2h-1v-1h-1v1h-2v-1h-1v2h-3v-1h-2v-1h-1v-1h-1v1h-2v-1h-2v4h-3v-2h-1v-1h-3v1h-1v-1h-1v-3h-1v-1h-2v5h-1v1h-2v-1h-1v1h-1v1h-1v-1h-1v-2h-1v-3h-3v7h-1v1h-2v-1h-1v-4h-1v-1h-1v-4h-1v-2h-4v-1h-1v-2h-1v4h-1v2h-1v2h-3v3h-3v-2h-2v1h-2v-3h-1v1h-1v1h-2v1h-1v1h-2v-1h-1v-1h-3v1h-1v5h-1v1h-2v-1h-1v-3h-1v1h-1v2h-3v-4h-1v2h-3v-5h-1v1h-1v1h-1v2h-1v1h-2v-1h-1v1h-1v2h-3v-2h-1v1h-2v-1h-1v-3h-1v-2h-1v1h-1v1h-1v1h-2v-1h-1v1h-2v-1h-3v-3h-1v4h-1v1h-2v-1h-1v-1h-1v-1h-1v1h-4v-1h-1v1h-3v2h-3v-3h-1v5h-3v-2h-1v2h-1v1h-1v-1h-1v-2h-2v-3h-4v5h-1v1h-2v-1h-1v-2h-1v3h-3v-5h-2v2h-3v-1h-1v-1h-1v4h-1v1h-1v-1h-1v-5h-1v-2h-1v1h-1v1h-2v1h-2v-1h-3v-4h-1v-1h-1v2h-1v1h-1v2h-1v1h-2v-1h-1v-3h-3v1h-2v-1h-2v-1h-2v1h-1v1h-1v-1h-1v-1h-1v1h-2v1h-1v1h-3v4h-1v1h-2v-1h-1v-8h-1v3h-1v2h-3v-2h-1v-2h-2v-1h-1v-2h-4v-5h-1v-1h-1v-1h-1v3h-1v6h-1v1h-3v-2h-3v2h-3v2h-1v1h-1v-1h-1v-3h-4v-1h-1v1h-1v-1h-2v1h-3v3h-3v-2h-3v-1h-5v-2h-7v-1h-1v2h-1v3h-1v2h-3v-1h-2v-1h-1v-3h-1v1h-5v-1h-1v-1h-2v1h-1v1h-1v-1h-1v-4h-1v1h-1v1h-1v2h-1v1h-2v-1h-1v-4h-1v1h-2v2h-3v-1h-3v3h-3v-1h-1v-5h-1v-1h-1v-1h-1v1h-1v-1h-1v4h-3v-3h-2v6h-1v1h-2v-1h-3v-1h-1v-2h-3v-2h-2v-7h-3v1h-1v3h-2v1h-1v1h-2v-1h-1v-2h-3v2h-1v1h-2v-1h-1v-3h-4v-1h-1v1h-1v1h-3v-3h-3v-2h-1v-2h-1v8h-1v1h-2v-1h-1v-2h-1v-3h-2v-1h-1v2h-2v3h-1v1h-1v-1h-1v-5h-5v-2h-1v1h-1v1h-3v-1h-1v2h-1v1h-1v-1h-1v-6h-1v-1h-2v-3h-2v3h-2v2h-3v-5h-2v1h-2v-1h-4v1h-2v-1h-1v-6h-1v-2h-2v-4h-1v4h-1v3h-3v-1h-1v3h-3v1h-1v4h-1v1h-2v-1h-1v-2h-1v-5h-1v-3h-1v-1h-1v1h-1v1h-2v2h-1v1h-2v-1h-1v-10h-1v-3h-1v3h-1v3h-1v1h-1v-1h-1v-7h-1v-3h-1v-1h-1v1h-3v-5h-1v-2h-3v-2h-2v-3h-1v-3h-1v-3h-2v-2h-1v-2h-2v-1h-1v-1h-1v-1h-2v-1h-2v-1h-1v-1h-1v2h-1v1h-1v-1h-1v2h-2v2h-2v4h-2v1h-1v4h-3v-2h-1v1h-1v5h-1v1h-2v6h-1v1h-2v-1h-1v-3h-2v5h-1v1h-2v4h-1v1h-1v1h-1v-1h-1v-2h-1v1h-2v-1h-2v3h-1v5h-1v1h-2v-1h-1v-4h-1v3h-2v3h-1v1h-2v-1h-2v3h-1v1h-1v-1h-1v-4h-1v3h-1v1h-1v-1h-2v1h-1v-1h-2v-1h-1v1h-1v8h-3v-5h-1v-1h-1v-1h-1v-2h-1v1h-1v3h-1v2h-1v1h-2v-1h-1v-3h-1v-1h-1v-1h-2v1h-1v-1h-1v-2h-1v1h-5v1h-1v-1h-1v-1h-3v1h-3v2h-1v2h-1v1h-2v-1h-1v-1h-3v1h-1v2h-1v1h-1v3h-3v-1h-3v-1h-1v-2h-4v1h-3v-2h-1v1h-3v-1h-1v-1h-1v1h-3v-1h-1v1h-1v1h-2v-1h-1v-5h-1v-2h-1v6h-1v1h-1v-1h-1v-5h-1v-3h-1v-2h-5v-1h-1v-2h-1v-3h-4v-3h-1v-2h-1v-2h-1v-1h-1v-3h-2v-5h-2v-2h-1v-8h-1v-2h-1v-7h-1v-4h-1v-1h-1v-8h-1v-9h-1v-2h-1v-11h-1v-9h-1v-5h-1v-7h-1v-12h-1v-11h-1v-8h-1v-11h-1v-19h-1v-6h-1v-17h-1v-1h-1v-6h-1v5h-1v11h-1v5h-1v17h-1v12h-1v18h-1v5h-1v18h-1v7h-1v18h-1v10h-1v1h-1v8h-1v3h-1v17h-1v1h-1v10h-1v1h-2v-1h-1v1h-1v3h-1v1h-1v4h-1v6h-2v5h-1v1h-1v1h-3v1h-1v4h-1v2h-3v1h-3v1h-1v4h-2v1h-2v1h-3v-3h-1v2h-1v2h-1v1h-2v-1h-3v-1h-1v1h-1v3h-1v1h-2v1h-1v4h-1v2h-3v-1h-2v3h-1v1h-2v-1h-3v-1h-1v-2h-1v-1h-1v5h-5v-3h-1v1h-4v-1h-1v1h-1v1h-1v-1h-1v4h-5v1h-1v-1h-1v-2h-1v1h-2v-1h-1v-4h-1v2h-4v-1h-1v2h-3v1h-4v-2h-1v-2h-1v-4h-1v-13h-1v-17h-1v1h-1v15h-1v10h-1v8h-2v7h-1v1h-1v1h-1v2h-3v1h-3v2h-3v-1h-3v1h-1v1h-1v-1h-1v-2h-1v5h-1v1h-3v-1h-1v1h-3v-4h-1v-2h-2v1h-2v-1h-1v-3h-1v1h-4v3h-1v1h-2v-1h-1v-1h-2v-1h-2v-1h-1v1h-1v5h-3v-6h-1v-7h-1v-2h-1v-1h-1v-5h-1v-13h-1v-27h-1v-28h-1v9h-1v30h-1v25h-1v6h-1v7h-1v6h-3v-1h-1v5h-1v1h-2v-1h-1v-1h-1v-1h-1v-2h-1v1h-1v2h-3v8h-4v-1h-3v-3h-2v-1h-1v-2h-1v2h-1v1h-2v-6h-1v-5h-1v-7h-1v-8h-1v6h-1v6h-1v3h-1v8h-1v1h-1v-1h-1v-4h-1v1h-1v1h-1v1h-1v3h-2v2h-4v-3h-6v1h-1v-1h-1v-3h-1v1h-2v1h-3v-1h-1v1h-1v1h-1v7h-1v1h-2v-1h-1v-2h-3v1h-1v1h-1v-1h-1v1h-2v1h-1v1h-2v-1h-1v-8h-2v2h-1v3h-1v1h-1v-1h-1v-2h-1v1h-2v4h-1v4h-1v1h-1v-1h-2v-1h-1v-4h-4v1h-1v2h-4v-3h-2v-2h-1v1h-5v-1h-2v4h-1v4h-5v-1h-1v-3h-1v2h-3v-3h-1v-1h-1v-1h-2v2h-1v1h-2v1h-1v1h-3v-3h-2v-2h-1v4h-1v1h-2v-1h-1v-2h-1v1h-1v1h-1v1h-5v-3h-1v-2h-1v4h-1v1h-1v-1h-1v-2h-1v1h-1v1h-2v-1h-1v-2h-1v-1h-1v-1h-1v-1h-1v-2h-2v-1h-1v-12h-2v10h-2v1h-3v-4h-1v-8h-1v2h-1v11h-1v1h-1v2h-5v-1h-1v-1h-1v5h-3v1h-2v-1h-2v3h-3v2h-2v1h-2v-1h-1v-6h-2v-1h-1v3h-3v-4h-1v3h-4v2h-1v1h-3v-8h-1v1h-2v2h-1v1h-2v-1h-4v-1h-2v-3h-1v-3h-1v-6h-1v-16h-1v5h-1v12h-1v1h-1v2h-1v4h-1v1h-1v1h-1v-1h-1v2h-1v3h-3v-3h-1v5h-1v1h-2v1h-3v-4h-3v-1h-1v-1h-2v-1h-1v-3h-1v-9h-1v-9h-1v2h-1v8h-1v5h-1v9h-1v1h-3v-1h-1v1h-1v2h-3v-1h-3v-3h-1v2h-1v6h-1v1h-2v-1h-1v-3h-2v2h-1v1h-2v-1h-1v-3h-4v-1h-1v2h-3v-2h-1v1h-1v3h-3v-1h-1v4h-3v-3h-4v-3h-1v1h-3v-2h-1v4h-1v1h-3v-3h-1v1h-5v-2h-1v-2h-1v-1h-1v-4h-1v-2h-1v-2h-1v2h-1v2h-1v8h-3v1h-2v2h-1v1h-1v-1h-1v-3h-3v3h-3v1h-2v-1h-1v-5h-1v1h-2v2h-1v1h-1v1h-2v-1h-1v-1h-1v-1h-1v3h-1v1h-3v-6h-1v-1h-1v1h-2v1h-1v1h-1v-1h-1v-3h-1v2h-1v1h-1v-1h-1v-3h-1v-1h-2v-1h-2v3h-3v-1h-1v2h-1v1h-2v1h-1v1h-5v-2h-1v3h-1v1h-2v2h-1v1h-2v-1h-1v-1h-1v1h-2v-1h-1v-3h-1v1h-2v1h-2v3h-1v1h-2v-1h-1v-1h-1v-1h-1v-1h-2v-1h-1v1h-1v2h-3v-2h-2v-1h-1v-1h-2v2h-1v1h-5v-2h-1v-1h-1v-1h-1v3h-1v1h-5v-3h-1v-2h-1v-1h-4v-5h-1v2h-3v2h-1v1h-1v-1h-1v2h-2v1h-4v-1h-1v1h-2v1h-1v4h-3v-2h-3v-1h-1v1h-2v3h-3v-1h-2v-1h-1v-1h-1v2h-1v1h-3v1h-4v-2h-3v4h-1v1h-1v1h-2v-1h-5v-3h-2v-2h-1v-1h-1v9h-4v-5h-1v-3h-1v1h-1v2h-7v1h-1v-1h-1v-2h-2v-2h-2v1h-1v1h-1v2h-1v1h-1v-1h-1v-2h-1v-1h-1v3h-1v1h-2v-1h-1v-1h-1v3h-3v-2h-3v-3h-1v-1h-1v1h-1v1h-1v1h-2v2h-1v1h-3v-5h-1v2h-3v-1h-1v4h-1v1h-3v-1h-1v-1h-1v-4h-3v1h-4v-1h-1v1h-2v-1h-1v-1h-1v3h-1v1h-2v-1h-2v-1h-2v2h-1v4h-1v1h-2v-1h-1v-5h-1v2h-1v3h-1v1h-1v-1h-1v-3h-2v4h-1v1h-2v-1h-1v-1h-1v-3h-1v-1h-1v-1h-1v4h-1v1h-2v-1h-1v-4h-1v-1h-1v2h-3v-1h-2v1h-1v1h-1v1h-3v-3h-1v1h-1v1h-3v-1h-1v-1h-1v4h-1v1h-3v-1h-1v-3h-1v1h-1v1h-1v1h-2v-1h-1v2h-3v-2h-1v-1h-1v-4h-2v1h-3v-1h-1v2h-1v1h-2v-1h-1v-2h-1v1h-1v1h-2v-1h-1v-7h-1v1h-2v2h-1v1h-2v-1h-1v4h-1v1h-2v-1h-1v-11h-1v-1h-2v-1h-1v-5h-1v-3h-1v-1h-1v-4h-1v-8h-2v-6h-1v-4h-1v-1h-1v1h-2v1h-1v4h-1v2h-1v4h-1v3h-1v6h-1v2h-1v6h-1v3h-2v1h-1v7h-3v4h-1v3h-2v1h-1v4h-1v1h-1v4h-3v-1h-3v-1h-2v1h-3v2h-1v1h-2v-1h-1v-3h-2v-1h-1v3h-1v1h-1v1h-1v1h-2v-1h-1v1h-1v1h-1v-1h-1v1h-1v1h-2v-1h-1v-3h-2v2h-2v4h-3v1h-4v-5h-1v1h-1v1h-1v2h-1v1h-2v-1h-1v-2h-1v-3h-1v-2h-1v3h-1v1h-3v-3h-1v-1h-1v3h-4v-4h-1v2h-3v-5h-1v3h-1v1h-2v-4h-1v3h-4v-4h-1v-1h-1v2h-1v1h-2v-1h-1v-3h-3v3h-3v12h-4z" fill="#008000" shape-rendering="crispEdges"/>
<path d="M191,1186h1v-1h1v-2h4v4h3v1h1v1h5v3h1v1h1v2h1v-4h1v-5h3v6h3v6h1v4h1v-2h6v-3h1v-1h1v1h1v5h1v-1h2v1h1v-1h1v-1h2v-1h2v1h2v-1h2v1h1v2h2v1h1v4h1v-6h1v-1h2v1h1v1h1v1h1v3h1v-2h1v-1h2v1h1v2h1v1h1v-2h2v1h1v1h5v-6h1v-1h2v1h1v5h3v-1h3v1h1v2h2v-1h3v-5h3v5h1v-3h1v-1h2v1h2v2h1v-1h1v-1h2v1h1v1h7v1h1v-3h1v-1h2v1h1v2h3v1h1v1h1v-1h1v1h1v-2h1v-5h3v4h1v-1h5v1h1v-2h3v-2h1v-1h2v1h1v3h1v1h1v1h1v2h1v-1h2v1h1v1h1v-2h1v-1h2v1h1v4h1v-3h1v-5h3v2h3v1h2v1h2v1h2v-4h2v1h1v5h1v2h4v-2h2v-2h3v-1h3v1h4v-2h3v2h1v-4h3v-4h3v5h1v4h1v1h1v-1h1v-1h4v-3h4v1h2v3h1v-5h3v1h3v-1h1v1h1v2h6v2h1v-9h3v1h1v6h1v1h2v1h2v-1h1v-1h6v-3h3v3h1v1h1v1h1v-1h2v-1h1v-7h1v-1h2v1h1v6h1v2h2v1h1v2h2v-3h1v-1h3v-3h3v3h1v-1h4v5h1v-1h1v-1h2v1h1v2h1v-1h1v-2h2v-1h1v1h2v-3h1v-1h2v1h2v3h2v-1h2v-1h2v-4h1v-1h1v1h1v4h1v-3h3v4h1v1h1v-3h3v1h1v1h1v1h1v-1h3v1h1v3h1v-2h3v-1h2v1h1v-1h6v1h3v-3h1v-2h3v4h3v-1h1v1h1v2h1v-6h1v-1h2v1h1v4h1v2h1v-1h1v-2h3v-1h1v-1h2v1h1v3h2v-2h1v-1h2v1h1v5h1v-3h1v-3h1v-1h2v1h1v2h1v1h1v1h1v-2h3v-1h1v-1h1v1h1v1h1v1h3v-3h2v-2h3v2h4v1h1v-3h3v1h1v-1h3v-1h1v-1h2v1h3v2h1v1h2v1h1v-1h3v-2h1v-7h1v-8h1v-4h1v-1h2v1h1v11h1v8h1v3h1v-1h3v4h4v-1h2v-2h1v-1h1v-1h1v-1h2v1h1v5h3v-5h3v1h4v-1h1v-2h1v-1h2v1h1v2h1v1h1v1h1v1h1v-2h3v-2h1v-1h2v1h2v-1h1v1h2v-2h3v5h1v2h1v-3h4v1h1v3h2v-7h3v5h1v1h1v1h1v-3h1v-1h1v1h1v1h1v-2h1v-1h2v1h1v-2h1v-1h2v1h1v1h1v1h2v-2h1v-1h1v1h1v3h2v-1h1v-4h1v-1h2v1h1v4h2v-1h6v-2h1v-1h2v-1h1v-1h2v-1h1v-10h1v-10h1v-24h1v-38h1v-11h1v-1h2v1h1v9h1v34h1v26h1v14h1v4h1v1h1v7h2v3h1v1h1v-6h1v-1h2v1h1v4h1v-2h6v-2h1v-23h1v-20h1v-35h1v-11h1v-1h2v1h1v18h1v32h1v24h1v9h1v6h1v6h1v-1h1v-2h3v3h1v1h1v2h2v-3h3v1h1v3h1v-1h3v-1h3v-1h1v-3h2v-1h1v-1h1v1h1v2h1v-3h3v4h4v3h1v-2h2v-1h1v-1h2v1h3v-3h1v-4h1v-6h1v-21h1v-16h1v-5h3v3h1v11h1v18h1v12h1v6h1v4h1v1h1v1h1v1h1v1h2v1h1v-3h1v-2h3v1h3v2h1v1h1v1h1v-1h1v-5h1v-1h2v1h1v3h1v1h1v1h1v-1h2v1h1v1h1v-3h1v-1h2v-4h2v1h1v5h2v-3h1v-1h2v1h1v4h1v-2h1v-3h3v4h1v-1h2v1h1v1h2v-5h1v-1h2v1h1v2h1v1h2v-1h2v1h1v3h2v1h1v-6h1v-1h2v1h1v2h1v-1h1v1h1v3h1v-2h1v-1h1v-5h5v1h1v3h1v1h2v-1h3v-3h1v-1h2v1h1v-1h3v1h1v1h1v-1h1v1h1v4h1v-4h1v-4h3v3h2v1h1v2h1v-1h2v-3h2v-1h2v1h1v2h1v-1h2v-1h1v1h1v3h1v-1h1v-1h2v-1h2v1h4v1h1v1h1v-3h1v-1h1v1h2v1h2v-5h1v-1h2v1h1v3h1v1h1v4h1v-3h1v-1h1v-2h1v-1h2v-1h1v-2h1v-1h1v1h1v1h1v-4h3v2h1v1h5v-6h3v1h1v-3h1v-1h1v-17h1v-22h1v-35h1v-55h1v-53h1v-32h1v-1h2v1h1v2h1v25h1v47h1v58h1v38h1v25h1v15h1v1h1v8h1v-2h3v2h1v1h1v-1h1v-3h3v5h1v2h1v-1h1v-1h2v1h3v-1h1v-1h2v1h1v4h1v-1h1v1h1v2h1v2h1v1h1v-2h1v-2h2v-3h3v3h1v-2h1v-1h2v1h1v3h1v-7h3v1h1v6h1v-2h1v-2h1v-1h1v-9h1v-19h1v-23h1v-28h1v-16h1v-7h3v1h1v16h1v26h1v33h1v17h1v6h1v5h1v1h1v1h2v-3h1v-1h4v1h1v1h4v1h2v1h1v1h1v-1h2v1h3v1h1v-2h1v-5h3v2h1v-1h2v1h1v-3h3v-1h2v1h1v-2h1v-1h2v1h1v5h2v-4h1v-1h2v1h1v3h5v-2h1v-5h3v3h1v2h1v1h3v-1h1v-1h4v-3h1v-1h2v1h1v4h1v1h1v-2h1v-6h1v-1h2v1h1v3h2v1h1v-1h1v-1h1v-2h3v4h1v1h1v-1h1v1h2v-6h1v-1h2v1h1v3h1v2h1v-2h1v-1h1v-11h1v-3h1v-13h1v-9h1v-3h3v3h1v11h1v13h1v4h1v1h1v5h1v2h1v1h3v2h2v-7h1v-8h3v3h2v7h2v-2h3v1h2v-4h1v-1h1v-7h3v8h1v-2h1v-1h2v1h1v2h2v-2h1v-4h1v-1h1v1h1v5h2v1h3v-3h1v-1h2v1h1v1h3v-5h1v-1h2v1h1v2h1v-1h1v-1h3v-2h3v-1h3v3h2v-5h3v1h1v-3h3v1h1v2h1v-2h3v1h1v-1h1v-1h2v-1h5v1h1v-1h1v-1h1v-3h1v-1h1v-1h2v-1h1v-1h2v1h1v3h2v-6h1v-1h1v1h1v2h1v3h1v-4h5v1h2v-1h1v-3h3v-2h1v-3h2v-1h1v-3h3v3h1v1h1v-1h1v-2h1v-1h2v1h1v-1h1v-1h1v-1h2v-1h3v-1h3v-5h1v-1h2v1h1v6h1v-1h2v1h1v-8h1v-1h2v1h4v1h1v-4h3v-1h2v1h1v5h2v-7h1v-1h2v1h1v3h1v4h1v1h1v-3h1v-3h2v-2h3v-3h3v4h1v1h2v1h1v-1h2v1h1v1h1v-3h1v-1h2v1h1v2h1v-2h1v-1h2v1h1v4h1v4h1v-3h8v2h5v-4h4v-3h1v-1h2v1h1v1h1v2h1v1h1v2h5v-3h4v1h1v3h1v-2h1v-1h2v-2h1v-1h2v-4h1v-1h2v1h1v-1h1v-1h1v1h3v4h1v5h1v-1h2v1h1v1h1v2h1v4h1v6h1v1h1v1h1v2h1v1h1v-1h1v1h1v4h1v-1h1v-1h3v3h1v-2h1v-1h4v3h2v1h1v1h6v-1h1v-4h3v8h1v-1h1v-5h1v-4h1v-1h2v1h1v3h3v3h1v2h2v-3h1v-2h1v-4h1v-1h2v1h1v5h1v8h1v1h1v2h1v-4h2v-1h3v8h1v-6h3v6h1v2h1v3h3v-2h3v3h6v3h1v-3h1v-1h2v1h1v7h1v-7h1v-1h2v1h1v1h1v1h1v4h4v1h1v-2h1v-7h1v-1h1v1h1v7h1v2h1v1h1v-3h3v1h1v3h2v1h1v-2h1v-1h2v1h1v1h1v1h2v-4h3v2h1v3h1v1h1v1h2v-1h1v1h3v1h4v1h2v-1h2v-1h2v1h1v-2h3v-4h3v10h1v1h1v-3h1v-2h4v3h1v2h2v1h2v-3h1v-1h1v1h1v3h2v1h5v-4h4v-2h1v-12h1v-10h1v-2h1v-1h1v1h1v8h1v7h1v9h1v2h2v3h2v1h3v1h2v-1h4v1h3v-2h4v7h1v-4h1v-1h2v1h1v5h1v-1h2v-1h2v-1h1v1h1v-2h1v-2h1v-1h1v1h1v3h2v1h3v1h1v1h4v-2h4v1h1v-2h3v2h1v-3h1v-1h2v1h1v2h2v2h1v-1h2v1h1v1h1v1h2v-1h7v-1h1v-1h1v1h1v-1h1v-1h1v-1h1v1h1v2h2v-1h4v1h1v-1h1v-1h2v1h3v1h1v2h1v-5h1v-1h2v1h1v1h1v-1h2v1h1v3h2v-1h2v-2h1v-1h1v-1h2v1h1v5h1v-1h2v1h1v1h4v-2h3v1h3v1h1v1h2v1h1v-1h3v1h1v-1h2v-1h1v-5h3v8h3v1h1v-2h1v-6h3v3h2v-1h2v1h1v1h1v-7h1v-1h2v1h2v1h1v2h1v-1h1v-5h3v3h2v-1h3v1h1v1h2v1h1v3h1v1h2v-2h1v-1h2v1h1v2h2v-1h5v-1h1v-4h1v-4h1v-7h1v-1h2v1h1v2h1v9h1v6h1v4h1v-3h2v-3h3v1h1v-1h2v1h1v4h1v1h1v2h1v-1h1v-4h1v-1h1v1h1v1h2v2h1v-1h1v-1h3v-1h1v-1h1v1h1v2h1v1h1v-2h1v-1h2v1h1v4h5v-1h2v1h1v1h1v-6h3v3h1v2h3v1h1v-1h1v-1h2v1h1v1h1v-1h4v-2h1v-1h2v1h1v1h1v-1h2v1h1v1h1v-1h2v1h1v1h1v-5h1v-1h2v1h1v2h1v-2h3v4h5v-2h1v-1h2v1h1v3h1v-4h3v1h1v-1h1v1h3v1h1v1h1v1h1v1h1v-1h1v-4h3v1h1v-1h3v4h8v-1h2v-1h5v1h3v-1h1v-1h1v1h2v-5h1v-1h2v1h2v-3h1v-1h1v1h1v2h1v-5h1v-1h1v1h1v7h1v-4h1v-3h3v1h1v3h2v1h2v1h1v1h1v3h2v2h1v-3h1v-1h1v1h2v1h1v4h2v-1h4v-2h3v2h6v2h1v-1h5v-1h1v1h1v-2h3v1h1v2h1v2h2v1h2v-1h1v-6h4v4h7v-1h1v1h1v-2h2v-2h3v2h4v-1h1v-2h1v-1h2v1h2v-1h6v-1h2v1h1v4h1v-3h1v-1h2v1h1v1h2v1h4v3h-1v8h-1v1h-2v-1h-4v-2h-1v-1h-2v-1h-1v-1h-1v1h-1v1h-1v2h-4v-1h-1v3h-4v1h-1v1h-2v-1h-1v1h-3v-1h-1v1h-1v-1h-1v1h-2v1h-3v-3h-3v2h-2v1h-3v2h-1v1h-1v-1h-1v-2h-3v-1h-1v-2h-3v1h-3v-1h-2v-1h-2v2h-3v-2h-2v1h-3v-2h-1v2h-1v1h-2v-1h-1v1h-3v-1h-1v-4h-1v-1h-1v-2h-1v1h-1v2h-1v1h-2v-1h-1v-1h-1v-3h-2v-2h-1v-2h-3v-1h-1v3h-1v1h-2v1h-1v1h-3v-2h-1v1h-1v5h-3v-3h-2v2h-1v1h-3v4h-3v-1h-4v-5h-1v6h-4v-4h-2v1h-2v-1h-2v2h-2v1h-1v1h-2v-1h-1v-3h-1v3h-1v1h-2v-1h-1v-3h-1v-1h-1v-1h-1v6h-3v-3h-3v-1h-1v-1h-1v2h-1v1h-2v2h-1v1h-2v-1h-1v-4h-1v1h-1v1h-2v-1h-2v-1h-1v-1h-1v1h-1v5h-3v-3h-2v-2h-1v1h-3v-3h-3v1h-1v2h-1v3h-1v1h-1v-1h-1v-2h-1v1h-1v1h-3v-2h-1v-1h-6v-1h-1v1h-3v1h-3v-1h-2v-1h-2v3h-1v3h-3v-5h-2v5h-1v1h-2v-1h-1v-1h-2v-1h-1v-1h-1v-1h-1v-1h-3v-1h-2v-2h-1v3h-1v1h-2v-1h-1v-4h-1v-2h-1v2h-1v1h-1v-1h-1v-2h-3v3h-4v-2h-1v-13h-1v2h-1v8h-1v1h-1v1h-1v2h-1v1h-3v-1h-3v-2h-3v-2h-4v-1h-2v-1h-2v-1h-1v-3h-1v-2h-1v2h-1v5h-3v-2h-2v2h-2v1h-1v1h-2v-1h-2v3h-2v1h-2v-1h-1v-1h-1v-1h-1v2h-1v1h-2v-1h-1v3h-1v1h-2v-1h-1v-1h-2v1h-1v1h-1v-1h-1v-3h-3v1h-2v2h-1v1h-2v-1h-1v-1h-1v-1h-3v-1h-1v1h-3v-1h-3v-1h-1v3h-1v1h-2v-1h-1v-5h-1v2h-1v1h-2v-1h-1v-1h-1v1h-1v1h-1v-1h-1v-1h-1v1h-3v-2h-2v1h-2v4h-3v-4h-1v-1h-1v2h-1v1h-2v-1h-1v2h-3v-4h-2v1h-2v-1h-2v1h-1v1h-1v1h-1v-1h-1v-1h-1v-2h-1v-1h-2v2h-3v-1h-1v3h-1v1h-2v-3h-1v-1h-1v-1h-2v2h-3v2h-1v1h-2v-1h-1v1h-4v-3h-1v-1h-2v1h-1v-1h-1v-3h-1v5h-1v1h-2v-1h-1v-2h-1v-1h-1v1h-1v1h-2v-1h-1v-2h-5v1h-3v-1h-2v-1h-2v3h-1v4h-3v-4h-1v-1h-2v3h-1v1h-2v-1h-1v-6h-3v2h-5v-1h-1v-6h-1v-1h-1v-3h-1v-11h-1v5h-1v5h-1v11h-1v1h-3v-5h-1v1h-2v-1h-1v-1h-4v-1h-2v9h-1v1h-3v-8h-1v-1h-1v-1h-1v-1h-1v-4h-1v6h-1v1h-2v-1h-2v-1h-3v-3h-2v5h-1v1h-2v-1h-3v-1h-1v-4h-2v4h-1v1h-1v-1h-1v-5h-1v2h-3v1h-2v1h-1v1h-2v-1h-1v-5h-1v-2h-1v2h-2v1h-2v-1h-1v1h-6v-3h-3v-3h-1v6h-1v1h-2v-1h-1v-7h-1v-1h-1v1h-1v-1h-1v2h-4v-3h-1v1h-2v1h-1v1h-2v-1h-1v-2h-2v-1h-5v1h-1v1h-6v-7h-1v3h-3v-4h-1v-3h-1v4h-1v1h-2v-1h-1v-5h-1v-4h-1v3h-1v1h-2v-3h-1v-7h-2v-1h-1v-4h-1v3h-1v4h-1v1h-1v-1h-1v1h-2v-1h-1v-2h-1v2h-1v1h-2v-1h-1v6h-3v-4h-1v-2h-4v1h-2v-1h-1v-1h-2v5h-1v1h-2v-1h-1v-6h-2v-1h-1v2h-1v1h-2v-1h-2v-2h-4v-5h-1v-2h-2v1h-2v-1h-1v-4h-1v-1h-1v-2h-2v-1h-1v-4h-1v-1h-1v-3h-1v-1h-1v-3h-1v-4h-1v-1h-1v4h-1v1h-4v8h-3v-6h-2v1h-1v1h-1v-1h-1v-1h-1v5h-1v1h-2v-1h-1v-1h-1v-4h-1v-1h-1v4h-3v-1h-1v1h-2v-1h-1v-3h-1v5h-3v-3h-1v1h-1v2h-1v1h-2v-1h-1v-5h-1v4h-4v1h-2v-1h-3v-1h-1v-1h-1v-3h-1v1h-2v2h-1v1h-1v-1h-1v1h-1v1h-3v-2h-2v-4h-2v3h-3v-4h-1v1h-1v1h-2v2h-1v3h-1v1h-4v-2h-2v-1h-3v2h-1v1h-1v1h-4v8h-3v-7h-2v-1h-7v1h-1v1h-3v1h-1v5h-4v-1h-2v5h-4v-3h-3v2h-1v1h-1v12h-3v-7h-1v-8h-2v7h-1v1h-2v-1h-1v-1h-2v2h-1v1h-4v-1h-1v4h-1v1h-1v1h-2v-1h-1v2h-1v3h-1v1h-2v-5h-1v5h-1v1h-1v-1h-1v-1h-3v4h-1v1h-3v-3h-3v-3h-2v6h-1v1h-3v-1h-1v-2h-2v2h-3v-1h-4v2h-1v2h-3v3h-1v1h-2v-1h-1v-1h-2v3h-3v-4h-1v3h-4v2h-1v1h-2v2h-1v1h-2v-1h-1v-5h-1v2h-1v1h-1v-1h-1v-1h-3v1h-1v2h-1v5h-3v-4h-1v-1h-2v7h-1v1h-2v-1h-1v-1h-4v5h-4v-3h-1v6h-3v-7h-1v-2h-1v4h-3v-3h-1v1h-3v-1h-1v4h-4v-10h-1v-1h-1v-7h-1v-15h-1v16h-1v4h-1v4h-1v5h-1v1h-1v2h-1v1h-3v-1h-1v-1h-1v1h-3v3h-1v1h-2v-1h-1v-3h-2v4h-2v1h-1v-1h-1v-2h-1v-1h-2v-1h-1v1h-2v3h-1v6h-3v-4h-1v-1h-1v-6h-2v1h-1v4h-1v2h-1v1h-1v-1h-1v-2h-1v1h-2v1h-7v1h-1v1h-1v-1h-1v-1h-2v-2h-2v3h-1v1h-6v-2h-2v1h-2v3h-3v-3h-1v-2h-4v2h-1v2h-1v1h-1v-1h-1v-1h-2v2h-1v1h-1v1h-1v-1h-2v-1h-1v-3h-2v1h-1v1h-2v-1h-2v4h-1v1h-3v-6h-1v-1h-3v-1h-1v-5h-1v-9h-1v-14h-1v-18h-1v-25h-1v23h-1v16h-1v22h-1v3h-1v2h-1v5h-2v1h-1v1h-1v2h-1v1h-2v-1h-1v-1h-1v3h-1v1h-1v-1h-1v-4h-1v1h-2v6h-1v1h-2v-1h-1v-2h-1v-1h-2v1h-2v-1h-1v-2h-1v-1h-1v-1h-1v-1h-3v6h-4v-9h-1v7h-4v-3h-3v-1h-2v-1h-3v-2h-2v-1h-1v-4h-1v-10h-1v-1h-1v-11h-1v-17h-1v-33h-1v-45h-1v-49h-1v61h-1v38h-1v33h-1v14h-1v13h-1v3h-1v7h-3v-2h-1v5h-1v3h-3v-1h-4v4h-3v-2h-1v2h-2v5h-3v-7h-1v2h-1v2h-1v1h-2v-1h-1v-1h-1v-1h-2v5h-3v-1h-1v1h-1v-1h-1v2h-1v1h-2v-1h-1v-1h-3v-3h-2v6h-3v-2h-3v-2h-2v4h-1v1h-2v-1h-1v-7h-1v1h-1v1h-1v1h-2v-1h-1v2h-1v2h-1v1h-1v-1h-3v-3h-1v1h-3v-2h-1v3h-1v1h-2v-1h-1v-3h-2v6h-3v-4h-2v-1h-1v-3h-2v6h-1v1h-2v-4h-2v1h-1v1h-1v1h-2v-1h-1v-1h-1v6h-2v1h-1v-1h-1v-3h-1v-2h-1v1h-1v3h-3v-3h-4v-1h-1v-3h-1v5h-1v1h-2v-1h-1v-3h-3v5h-2v1h-1v3h-1v1h-2v-1h-1v-6h-1v3h-1v1h-1v-1h-1v-3h-1v-3h-2v1h-1v1h-2v-1h-2v-1h-3v1h-2v1h-5v-1h-3v-3h-1v1h-1v1h-1v3h-1v1h-1v-1h-1v-3h-1v2h-6v-3h-1v-1h-2v-2h-3v-4h-1v-5h-1v-10h-1v-11h-1v17h-1v5h-1v4h-1v4h-1v1h-2v-1h-1v2h-2v5h-1v1h-5v-2h-1v-3h-1v2h-1v1h-1v-1h-1v-1h-2v6h-1v1h-2v-1h-1v-4h-1v1h-5v-1h-1v2h-1v1h-2v-1h-1v-2h-1v1h-1v-1h-1v-1h-1v-1h-2v2h-1v1h-2v-1h-1v-2h-2v-3h-3v-6h-1v-9h-1v-4h-1v-20h-1v-5h-1v21h-1v18h-1v1h-2v4h-3v4h-1v1h-2v-1h-1v-1h-2v-2h-1v1h-1v1h-2v-1h-1v-1h-1v-2h-1v2h-3v-2h-1v-5h-1v-9h-1v-13h-1v-19h-1v3h-1v25h-1v4h-1v5h-1v1h-1v5h-1v3h-3v1h-1v1h-1v3h-1v1h-2v-1h-1v-2h-1v1h-1v2h-1v1h-2v-1h-1v-1h-2v1h-3v-2h-1v3h-3v1h-1v1h-1v-1h-1v-3h-1v2h-3v2h-3v-4h-1v-1h-3v1h-1v5h-1v1h-1v1h-3v-4h-3v1h-1v-1h-1v-2h-2v2h-1v1h-2v-1h-2v-2h-3v2h-5v1h-2v-1h-2v-1h-1v-4h-3v5h-1v1h-3v-3h-1v-3h-1v1h-2v2h-1v1h-1v-1h-1v-1h-2v3h-1v1h-1v1h-1v1h-1v1h-1v-1h-1v-3h-1v-1h-2v1h-2v-1h-1v-2h-2v2h-3v-3h-1v2h-3v-3h-1v-2h-1v-6h-1v2h-1v4h-1v1h-2v1h-2v1h-1v3h-3v-5h-2v4h-1v1h-1v-1h-1v2h-1v1h-2v-1h-1v1h-1v1h-3v-6h-1v-1h-1v-1h-1v11h-4v-10h-2v3h-1v2h-1v1h-2v-1h-2v1h-3v-2h-2v1h-3v-2h-2v1h-2v1h-2v-1h-3v1h-2v-1h-1v3h-3v4h-1v1h-2v-1h-1v-6h-1v-1h-1v-3h-1v2h-1v2h-1v1h-1v3h-4v-1h-1v-5h-1v1h-2v-3h-1v-1h-1v1h-1v3h-1v3h-4v-5h-1v1h-2v3h-1v2h-1v1h-2v-1h-1v-5h-5v7h-1v1h-3v-4h-2v-3h-1v7h-3v-6h-1v-5h-1v4h-1v1h-1v-1h-1v-5h-1v5h-4v-1h-1v-2h-1v2h-1v1h-4v-1h-1v-3h-1v1h-1v5h-3v-1h-1v-1h-2v-1h-1v-1h-2v-1h-1v4h-4v-3h-3v3h-6v5h-3v-5h-3v1h-2v-1h-1v-6h-1v1h-1v1h-1v1h-2v-1h-1v3h-3v-1h-2v2h-3v-4h-1v1h-2v3h-4v-1h-1v1h-1v-1h-1v-2h-2v1h-3v1h-3v-1h-1v-2h-2v1h-1v1h-2v-1h-1v-2h-1v1h-3v3h-1v1h-2v3h-1v1h-1v-1h-1v-4h-1v-2h-1v2h-1v1h-2v-1h-2v-2h-5v2h-1v1h-2v2h-3v-5h-1v3h-1v3h-1v1h-2v-1h-1v-4h-1v-4h-1v1h-3v1h-1v3h-3v-2h-1v-1h-1v-1h-1v1h-2v-1h-2v1h-3v1h-2v-1h-1v-1h-1v4h-1v1h-2v-1h-1v-2h-1v1h-1v3h-1v1h-2v-1h-1v-6h-1v1h-3v1h-1v-1h-3v-1h-1v3h-4v-2h-3v-2h-1v1h-2v-1h-1v-2h-1v3h-3v1h-3v1h-3v-4h-1v2h-1v5h-1v1h-2v-1h-1v-5h-1v-1h-1v1h-2v3h-3v-1h-3v-1h-1v-2h-1v4h-1v1h-2v-1h-1v-2h-2v-1h-1v3h-1v4h-1v1h-1v-1h-1v-2h-3v-5h-1v3h-3v-5h-2v5h-1v1h-2v-1h-1v-5h-1v2h-3v2h-1v2h-3v4h-3v-3h-3v-2h-1v-1h-1v-3h-1v-1h-2v2h-3v1h-1v1h-2v-1h-1v-2h-5v-1h-1v-1h-1v1h-1v-1h-1v1h-1v1h-1v-1h-1v-3h-1v1h-2v-1h-5v-2h-2v1h-1v1h-2v-1h-1v-5h-2v-1h-1v-3h-1v1h-1v1h-1v-1h-1v-1h-1v1h-3v-4h-1v1h-3v-1h-1v-2h-1v3h-1v1h-2v61h-4z" fill="#8000ff" shape-rendering="crispEdges"/>
</g>
<g id="marks">
<ellipse cx="1169.3" cy="150.4" rx="25.9" ry="32.3" fill="#000"/>
<ellipse cx="1182.1" cy="646.4" rx="25.7" ry="32.5" fill="#000"/>
<text transform="matrix(1.2816,0,0,1.2270,1320,167.3)" font-weight="bold">*</text>
<text transform="matrix(1.2658,0,0,1.2270,1333.2,453)" font-weight="bold">*</text>
<text transform="matrix(1.2658,0,0,1.2270,1333.2,813.4)" font-weight="bold">*</text>
<text transform="matrix(1.2737,0,0,1.2270,1345.5,1134.3)" font-weight="bold">*</text>
<text transform="matrix(1.2686,0,0,1.0982,1492.9,230.4)" font-weight="normal">α</text>
<text transform="matrix(1.3667,0,0,1.1709,1499.8,503.8)" font-weight="normal">α</text>
</g>
<g id="labels">
<text transform="matrix(0.9603,0,0,1.0435,1600.7,181.1)" font-weight="bold" >Fe/Cu/Ag</text>
<text transform="matrix(0.9641,0,0,1.0565,1726.4,474.3)" font-weight="bold" >Fe/Cu</text>
<text transform="matrix(0.9641,0,0,1.0565,1727.4,775.1)" font-weight="bold" >Fe/Ag</text>
<text transform="matrix(0.9558,0,0,1.0536,1783.3,1076)" font-weight="bold" >nZVI</text>
<text transform="matrix(0.9635,0,0,1.0507,1789.2,1376.8)" font-weight="bold" >CuO</text>
<text transform="matrix(1.0000,0,0,1.0565,1856.3,1985.9)" font-weight="bold" >Ag</text>
<text transform="matrix(0.9796,0,0,1.0464,1853.5,2286.8)" font-weight="bold" >Cu</text>
<text transform="matrix(0.9514,0,0,1.0478,1860,2581)" font-weight="bold" >Fe</text>
<text transform="matrix(0.9299,0,0,1.0493,1748.3,1679)" font-weight="bold" >Fe</text>
<text transform="matrix(0.5792,0,0,0.6171,1858,1714.2)" font-weight="bold">2</text>
<text transform="matrix(0.9683,0,0,1.0479,1890.6,1679)" font-weight="bold">O</text>
<text transform="matrix(0.5787,0,0,0.6183,1965.1,1714.3)" font-weight="normal">3</text>
</g>
<g id="axis">
<text transform="matrix(0.957,0,0,1.038,188,2885.8)" text-anchor="middle" font-weight="bold">0</text>
<text transform="matrix(0.957,0,0,1.038,436.4,2885.8)" text-anchor="middle" font-weight="bold">10</text>
<text transform="matrix(0.957,0,0,1.038,684.8,2885.8)" text-anchor="middle" font-weight="bold">20</text>
<text transform="matrix(0.957,0,0,1.038,933.2,2885.8)" text-anchor="middle" font-weight="bold">30</text>
<text transform="matrix(0.957,0,0,1.038,1181.6,2885.8)" text-anchor="middle" font-weight="bold">40</text>
<text transform="matrix(0.957,0,0,1.038,1430,2885.8)" text-anchor="middle" font-weight="bold">50</text>
<text transform="matrix(0.957,0,0,1.038,1678.4,2885.8)" text-anchor="middle" font-weight="bold">60</text>
<text transform="matrix(0.957,0,0,1.038,1926.8,2885.8)" text-anchor="middle" font-weight="bold">70</text>
<text transform="matrix(0.9612,0,0,1.0290,675.9,3103.7)" font-weight="bold" >Angle 2θ (Degrees)</text>
<text transform="translate(130.8,1748.2) rotate(-90) scale(1.1104,1.1754)" font-weight="bold">Intensity (a.u)</text>
</g>
</svg></body></html>
